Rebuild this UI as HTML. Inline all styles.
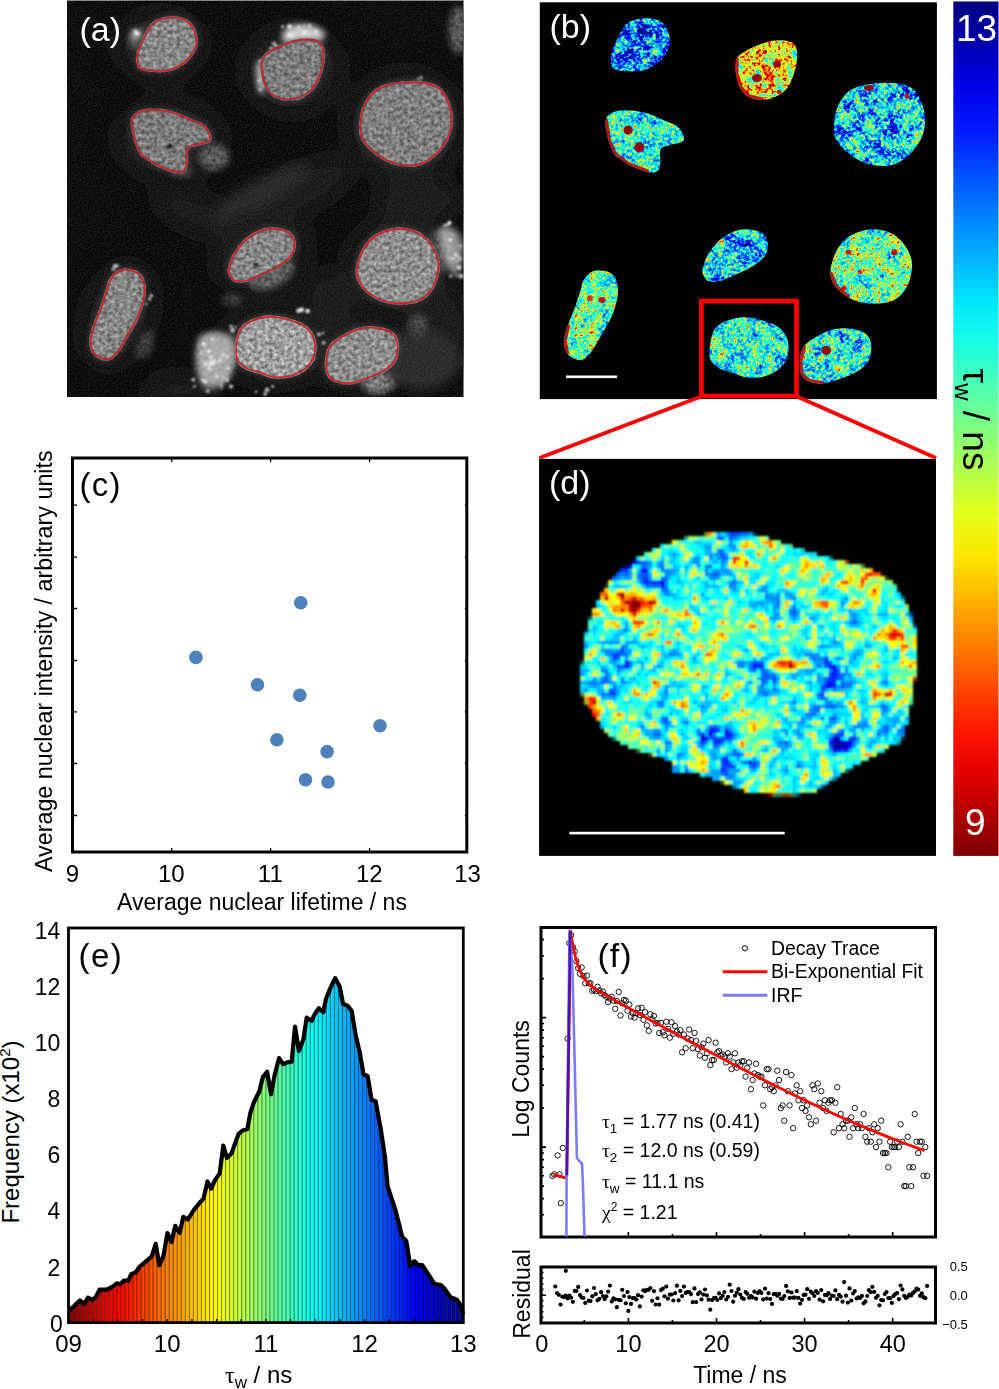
<!DOCTYPE html><html><head><meta charset="utf-8"><style>html,body{margin:0;padding:0;background:#fff;}svg{display:block;}text{font-family:"Liberation Sans", sans-serif;}</style></head><body>
<svg width="999" height="1389" viewBox="0 0 999 1389">
<defs>
<filter id="fb1" x="-5%" y="-5%" width="110%" height="110%" color-interpolation-filters="sRGB"><feTurbulence type="fractalNoise" baseFrequency="0.320" numOctaves="2" seed="7" result="nf"/><feColorMatrix in="nf" type="matrix" values="1 0 0 0 0 1 0 0 0 0 1 0 0 0 0 0 0 0 0 1" result="of0"/><feComponentTransfer in="of0" result="of"><feFuncR type="table" tableValues="0.25 0.3125 0.375 0.4375 0.5 0.6875 0.875 1 1"/><feFuncG type="table" tableValues="0.25 0.3125 0.375 0.4375 0.5 0.6875 0.875 1 1"/><feFuncB type="table" tableValues="0.25 0.3125 0.375 0.4375 0.5 0.6875 0.875 1 1"/></feComponentTransfer><feTurbulence type="fractalNoise" baseFrequency="0.080" numOctaves="2" seed="57" result="nc"/><feColorMatrix in="nc" type="matrix" values="1 0 0 0 0 1 0 0 0 0 1 0 0 0 0 0 0 0 0 1" result="oc"/><feComposite in="of" in2="oc" operator="arithmetic" k1="0" k2="0.5455" k3="0.4545" k4="0" result="mix"/><feColorMatrix in="mix" type="matrix" values="1.6500 0 0 0 -0.6050 1.6500 0 0 0 -0.6050 1.6500 0 0 0 -0.6050 0 0 0 0 1" result="v"/><feComponentTransfer in="v" result="c"><feFuncR type="table" tableValues="0.000 0.000 0.000 0.000 0.000 0.000 0.000 0.000 0.000 0.000 0.000 0.000 0.000 0.000 0.000 0.000 0.100 0.200 0.300 0.400 0.500 0.600 0.700 0.800 0.900 1.000 1.000 1.000 1.000 1.000 1.000 1.000 1.000 1.000 1.000 1.000 0.900 0.800 0.700 0.600 0.500"/><feFuncG type="table" tableValues="0.000 0.000 0.000 0.000 0.000 0.000 0.100 0.200 0.300 0.400 0.500 0.600 0.700 0.800 0.900 1.000 1.000 1.000 1.000 1.000 1.000 1.000 1.000 1.000 1.000 1.000 0.900 0.800 0.700 0.600 0.500 0.400 0.300 0.200 0.100 0.000 0.000 0.000 0.000 0.000 0.000"/><feFuncB type="table" tableValues="0.500 0.600 0.700 0.800 0.900 1.000 1.000 1.000 1.000 1.000 1.000 1.000 1.000 1.000 1.000 1.000 0.900 0.800 0.700 0.600 0.500 0.400 0.300 0.200 0.100 0.000 0.000 0.000 0.000 0.000 0.000 0.000 0.000 0.000 0.000 0.000 0.000 0.000 0.000 0.000 0.000"/></feComponentTransfer><feComposite in="c" in2="SourceGraphic" operator="in"/></filter>
<filter id="fb2" x="-5%" y="-5%" width="110%" height="110%" color-interpolation-filters="sRGB"><feTurbulence type="fractalNoise" baseFrequency="0.320" numOctaves="2" seed="14" result="nf"/><feColorMatrix in="nf" type="matrix" values="1 0 0 0 0 1 0 0 0 0 1 0 0 0 0 0 0 0 0 1" result="of0"/><feComponentTransfer in="of0" result="of"><feFuncR type="table" tableValues="0.25 0.3125 0.375 0.4375 0.5 0.6875 0.875 1 1"/><feFuncG type="table" tableValues="0.25 0.3125 0.375 0.4375 0.5 0.6875 0.875 1 1"/><feFuncB type="table" tableValues="0.25 0.3125 0.375 0.4375 0.5 0.6875 0.875 1 1"/></feComponentTransfer><feTurbulence type="fractalNoise" baseFrequency="0.080" numOctaves="2" seed="64" result="nc"/><feColorMatrix in="nc" type="matrix" values="1 0 0 0 0 1 0 0 0 0 1 0 0 0 0 0 0 0 0 1" result="oc"/><feComposite in="of" in2="oc" operator="arithmetic" k1="0" k2="0.4857" k3="0.5143" k4="0" result="mix"/><feColorMatrix in="mix" type="matrix" values="1.7500 0 0 0 -0.2550 1.7500 0 0 0 -0.2550 1.7500 0 0 0 -0.2550 0 0 0 0 1" result="v"/><feComponentTransfer in="v" result="c"><feFuncR type="table" tableValues="0.000 0.000 0.000 0.000 0.000 0.000 0.000 0.000 0.000 0.000 0.000 0.000 0.000 0.000 0.000 0.000 0.100 0.200 0.300 0.400 0.500 0.600 0.700 0.800 0.900 1.000 1.000 1.000 1.000 1.000 1.000 1.000 1.000 1.000 1.000 1.000 0.900 0.800 0.700 0.600 0.500"/><feFuncG type="table" tableValues="0.000 0.000 0.000 0.000 0.000 0.000 0.100 0.200 0.300 0.400 0.500 0.600 0.700 0.800 0.900 1.000 1.000 1.000 1.000 1.000 1.000 1.000 1.000 1.000 1.000 1.000 0.900 0.800 0.700 0.600 0.500 0.400 0.300 0.200 0.100 0.000 0.000 0.000 0.000 0.000 0.000"/><feFuncB type="table" tableValues="0.500 0.600 0.700 0.800 0.900 1.000 1.000 1.000 1.000 1.000 1.000 1.000 1.000 1.000 1.000 1.000 0.900 0.800 0.700 0.600 0.500 0.400 0.300 0.200 0.100 0.000 0.000 0.000 0.000 0.000 0.000 0.000 0.000 0.000 0.000 0.000 0.000 0.000 0.000 0.000 0.000"/></feComponentTransfer><feComposite in="c" in2="SourceGraphic" operator="in"/></filter>
<filter id="fb3" x="-5%" y="-5%" width="110%" height="110%" color-interpolation-filters="sRGB"><feTurbulence type="fractalNoise" baseFrequency="0.320" numOctaves="2" seed="21" result="nf"/><feColorMatrix in="nf" type="matrix" values="1 0 0 0 0 1 0 0 0 0 1 0 0 0 0 0 0 0 0 1" result="of0"/><feComponentTransfer in="of0" result="of"><feFuncR type="table" tableValues="0.25 0.3125 0.375 0.4375 0.5 0.6875 0.875 1 1"/><feFuncG type="table" tableValues="0.25 0.3125 0.375 0.4375 0.5 0.6875 0.875 1 1"/><feFuncB type="table" tableValues="0.25 0.3125 0.375 0.4375 0.5 0.6875 0.875 1 1"/></feComponentTransfer><feTurbulence type="fractalNoise" baseFrequency="0.080" numOctaves="2" seed="71" result="nc"/><feColorMatrix in="nc" type="matrix" values="1 0 0 0 0 1 0 0 0 0 1 0 0 0 0 0 0 0 0 1" result="oc"/><feComposite in="of" in2="oc" operator="arithmetic" k1="0" k2="0.5625" k3="0.4375" k4="0" result="mix"/><feColorMatrix in="mix" type="matrix" values="1.6000 0 0 0 -0.5000 1.6000 0 0 0 -0.5000 1.6000 0 0 0 -0.5000 0 0 0 0 1" result="v"/><feComponentTransfer in="v" result="c"><feFuncR type="table" tableValues="0.000 0.000 0.000 0.000 0.000 0.000 0.000 0.000 0.000 0.000 0.000 0.000 0.000 0.000 0.000 0.000 0.100 0.200 0.300 0.400 0.500 0.600 0.700 0.800 0.900 1.000 1.000 1.000 1.000 1.000 1.000 1.000 1.000 1.000 1.000 1.000 0.900 0.800 0.700 0.600 0.500"/><feFuncG type="table" tableValues="0.000 0.000 0.000 0.000 0.000 0.000 0.100 0.200 0.300 0.400 0.500 0.600 0.700 0.800 0.900 1.000 1.000 1.000 1.000 1.000 1.000 1.000 1.000 1.000 1.000 1.000 0.900 0.800 0.700 0.600 0.500 0.400 0.300 0.200 0.100 0.000 0.000 0.000 0.000 0.000 0.000"/><feFuncB type="table" tableValues="0.500 0.600 0.700 0.800 0.900 1.000 1.000 1.000 1.000 1.000 1.000 1.000 1.000 1.000 1.000 1.000 0.900 0.800 0.700 0.600 0.500 0.400 0.300 0.200 0.100 0.000 0.000 0.000 0.000 0.000 0.000 0.000 0.000 0.000 0.000 0.000 0.000 0.000 0.000 0.000 0.000"/></feComponentTransfer><feComposite in="c" in2="SourceGraphic" operator="in"/></filter>
<filter id="fb4" x="-5%" y="-5%" width="110%" height="110%" color-interpolation-filters="sRGB"><feTurbulence type="fractalNoise" baseFrequency="0.320" numOctaves="2" seed="28" result="nf"/><feColorMatrix in="nf" type="matrix" values="1 0 0 0 0 1 0 0 0 0 1 0 0 0 0 0 0 0 0 1" result="of0"/><feComponentTransfer in="of0" result="of"><feFuncR type="table" tableValues="0.25 0.3125 0.375 0.4375 0.5 0.6875 0.875 1 1"/><feFuncG type="table" tableValues="0.25 0.3125 0.375 0.4375 0.5 0.6875 0.875 1 1"/><feFuncB type="table" tableValues="0.25 0.3125 0.375 0.4375 0.5 0.6875 0.875 1 1"/></feComponentTransfer><feTurbulence type="fractalNoise" baseFrequency="0.080" numOctaves="2" seed="78" result="nc"/><feColorMatrix in="nc" type="matrix" values="1 0 0 0 0 1 0 0 0 0 1 0 0 0 0 0 0 0 0 1" result="oc"/><feComposite in="of" in2="oc" operator="arithmetic" k1="0" k2="0.6154" k3="0.3846" k4="0" result="mix"/><feColorMatrix in="mix" type="matrix" values="1.3000 0 0 0 -0.2800 1.3000 0 0 0 -0.2800 1.3000 0 0 0 -0.2800 0 0 0 0 1" result="v"/><feComponentTransfer in="v" result="c"><feFuncR type="table" tableValues="0.000 0.000 0.000 0.000 0.000 0.000 0.000 0.000 0.000 0.000 0.000 0.000 0.000 0.000 0.000 0.000 0.100 0.200 0.300 0.400 0.500 0.600 0.700 0.800 0.900 1.000 1.000 1.000 1.000 1.000 1.000 1.000 1.000 1.000 1.000 1.000 0.900 0.800 0.700 0.600 0.500"/><feFuncG type="table" tableValues="0.000 0.000 0.000 0.000 0.000 0.000 0.100 0.200 0.300 0.400 0.500 0.600 0.700 0.800 0.900 1.000 1.000 1.000 1.000 1.000 1.000 1.000 1.000 1.000 1.000 1.000 0.900 0.800 0.700 0.600 0.500 0.400 0.300 0.200 0.100 0.000 0.000 0.000 0.000 0.000 0.000"/><feFuncB type="table" tableValues="0.500 0.600 0.700 0.800 0.900 1.000 1.000 1.000 1.000 1.000 1.000 1.000 1.000 1.000 1.000 1.000 0.900 0.800 0.700 0.600 0.500 0.400 0.300 0.200 0.100 0.000 0.000 0.000 0.000 0.000 0.000 0.000 0.000 0.000 0.000 0.000 0.000 0.000 0.000 0.000 0.000"/></feComponentTransfer><feComposite in="c" in2="SourceGraphic" operator="in"/></filter>
<filter id="fb5" x="-5%" y="-5%" width="110%" height="110%" color-interpolation-filters="sRGB"><feTurbulence type="fractalNoise" baseFrequency="0.320" numOctaves="2" seed="35" result="nf"/><feColorMatrix in="nf" type="matrix" values="1 0 0 0 0 1 0 0 0 0 1 0 0 0 0 0 0 0 0 1" result="of0"/><feComponentTransfer in="of0" result="of"><feFuncR type="table" tableValues="0.25 0.3125 0.375 0.4375 0.5 0.6875 0.875 1 1"/><feFuncG type="table" tableValues="0.25 0.3125 0.375 0.4375 0.5 0.6875 0.875 1 1"/><feFuncB type="table" tableValues="0.25 0.3125 0.375 0.4375 0.5 0.6875 0.875 1 1"/></feComponentTransfer><feTurbulence type="fractalNoise" baseFrequency="0.080" numOctaves="2" seed="85" result="nc"/><feColorMatrix in="nc" type="matrix" values="1 0 0 0 0 1 0 0 0 0 1 0 0 0 0 0 0 0 0 1" result="oc"/><feComposite in="of" in2="oc" operator="arithmetic" k1="0" k2="0.5625" k3="0.4375" k4="0" result="mix"/><feColorMatrix in="mix" type="matrix" values="1.6000 0 0 0 -0.5100 1.6000 0 0 0 -0.5100 1.6000 0 0 0 -0.5100 0 0 0 0 1" result="v"/><feComponentTransfer in="v" result="c"><feFuncR type="table" tableValues="0.000 0.000 0.000 0.000 0.000 0.000 0.000 0.000 0.000 0.000 0.000 0.000 0.000 0.000 0.000 0.000 0.100 0.200 0.300 0.400 0.500 0.600 0.700 0.800 0.900 1.000 1.000 1.000 1.000 1.000 1.000 1.000 1.000 1.000 1.000 1.000 0.900 0.800 0.700 0.600 0.500"/><feFuncG type="table" tableValues="0.000 0.000 0.000 0.000 0.000 0.000 0.100 0.200 0.300 0.400 0.500 0.600 0.700 0.800 0.900 1.000 1.000 1.000 1.000 1.000 1.000 1.000 1.000 1.000 1.000 1.000 0.900 0.800 0.700 0.600 0.500 0.400 0.300 0.200 0.100 0.000 0.000 0.000 0.000 0.000 0.000"/><feFuncB type="table" tableValues="0.500 0.600 0.700 0.800 0.900 1.000 1.000 1.000 1.000 1.000 1.000 1.000 1.000 1.000 1.000 1.000 0.900 0.800 0.700 0.600 0.500 0.400 0.300 0.200 0.100 0.000 0.000 0.000 0.000 0.000 0.000 0.000 0.000 0.000 0.000 0.000 0.000 0.000 0.000 0.000 0.000"/></feComponentTransfer><feComposite in="c" in2="SourceGraphic" operator="in"/></filter>
<filter id="fb6" x="-5%" y="-5%" width="110%" height="110%" color-interpolation-filters="sRGB"><feTurbulence type="fractalNoise" baseFrequency="0.320" numOctaves="2" seed="42" result="nf"/><feColorMatrix in="nf" type="matrix" values="1 0 0 0 0 1 0 0 0 0 1 0 0 0 0 0 0 0 0 1" result="of0"/><feComponentTransfer in="of0" result="of"><feFuncR type="table" tableValues="0.25 0.3125 0.375 0.4375 0.5 0.6875 0.875 1 1"/><feFuncG type="table" tableValues="0.25 0.3125 0.375 0.4375 0.5 0.6875 0.875 1 1"/><feFuncB type="table" tableValues="0.25 0.3125 0.375 0.4375 0.5 0.6875 0.875 1 1"/></feComponentTransfer><feTurbulence type="fractalNoise" baseFrequency="0.080" numOctaves="2" seed="92" result="nc"/><feColorMatrix in="nc" type="matrix" values="1 0 0 0 0 1 0 0 0 0 1 0 0 0 0 0 0 0 0 1" result="oc"/><feComposite in="of" in2="oc" operator="arithmetic" k1="0" k2="0.5862" k3="0.4138" k4="0" result="mix"/><feColorMatrix in="mix" type="matrix" values="1.4500 0 0 0 -0.2850 1.4500 0 0 0 -0.2850 1.4500 0 0 0 -0.2850 0 0 0 0 1" result="v"/><feComponentTransfer in="v" result="c"><feFuncR type="table" tableValues="0.000 0.000 0.000 0.000 0.000 0.000 0.000 0.000 0.000 0.000 0.000 0.000 0.000 0.000 0.000 0.000 0.100 0.200 0.300 0.400 0.500 0.600 0.700 0.800 0.900 1.000 1.000 1.000 1.000 1.000 1.000 1.000 1.000 1.000 1.000 1.000 0.900 0.800 0.700 0.600 0.500"/><feFuncG type="table" tableValues="0.000 0.000 0.000 0.000 0.000 0.000 0.100 0.200 0.300 0.400 0.500 0.600 0.700 0.800 0.900 1.000 1.000 1.000 1.000 1.000 1.000 1.000 1.000 1.000 1.000 1.000 0.900 0.800 0.700 0.600 0.500 0.400 0.300 0.200 0.100 0.000 0.000 0.000 0.000 0.000 0.000"/><feFuncB type="table" tableValues="0.500 0.600 0.700 0.800 0.900 1.000 1.000 1.000 1.000 1.000 1.000 1.000 1.000 1.000 1.000 1.000 0.900 0.800 0.700 0.600 0.500 0.400 0.300 0.200 0.100 0.000 0.000 0.000 0.000 0.000 0.000 0.000 0.000 0.000 0.000 0.000 0.000 0.000 0.000 0.000 0.000"/></feComponentTransfer><feComposite in="c" in2="SourceGraphic" operator="in"/></filter>
<filter id="fb7" x="-5%" y="-5%" width="110%" height="110%" color-interpolation-filters="sRGB"><feTurbulence type="fractalNoise" baseFrequency="0.320" numOctaves="2" seed="49" result="nf"/><feColorMatrix in="nf" type="matrix" values="1 0 0 0 0 1 0 0 0 0 1 0 0 0 0 0 0 0 0 1" result="of0"/><feComponentTransfer in="of0" result="of"><feFuncR type="table" tableValues="0.25 0.3125 0.375 0.4375 0.5 0.6875 0.875 1 1"/><feFuncG type="table" tableValues="0.25 0.3125 0.375 0.4375 0.5 0.6875 0.875 1 1"/><feFuncB type="table" tableValues="0.25 0.3125 0.375 0.4375 0.5 0.6875 0.875 1 1"/></feComponentTransfer><feTurbulence type="fractalNoise" baseFrequency="0.080" numOctaves="2" seed="99" result="nc"/><feColorMatrix in="nc" type="matrix" values="1 0 0 0 0 1 0 0 0 0 1 0 0 0 0 0 0 0 0 1" result="oc"/><feComposite in="of" in2="oc" operator="arithmetic" k1="0" k2="0.5862" k3="0.4138" k4="0" result="mix"/><feColorMatrix in="mix" type="matrix" values="1.4500 0 0 0 -0.3050 1.4500 0 0 0 -0.3050 1.4500 0 0 0 -0.3050 0 0 0 0 1" result="v"/><feComponentTransfer in="v" result="c"><feFuncR type="table" tableValues="0.000 0.000 0.000 0.000 0.000 0.000 0.000 0.000 0.000 0.000 0.000 0.000 0.000 0.000 0.000 0.000 0.100 0.200 0.300 0.400 0.500 0.600 0.700 0.800 0.900 1.000 1.000 1.000 1.000 1.000 1.000 1.000 1.000 1.000 1.000 1.000 0.900 0.800 0.700 0.600 0.500"/><feFuncG type="table" tableValues="0.000 0.000 0.000 0.000 0.000 0.000 0.100 0.200 0.300 0.400 0.500 0.600 0.700 0.800 0.900 1.000 1.000 1.000 1.000 1.000 1.000 1.000 1.000 1.000 1.000 1.000 0.900 0.800 0.700 0.600 0.500 0.400 0.300 0.200 0.100 0.000 0.000 0.000 0.000 0.000 0.000"/><feFuncB type="table" tableValues="0.500 0.600 0.700 0.800 0.900 1.000 1.000 1.000 1.000 1.000 1.000 1.000 1.000 1.000 1.000 1.000 0.900 0.800 0.700 0.600 0.500 0.400 0.300 0.200 0.100 0.000 0.000 0.000 0.000 0.000 0.000 0.000 0.000 0.000 0.000 0.000 0.000 0.000 0.000 0.000 0.000"/></feComponentTransfer><feComposite in="c" in2="SourceGraphic" operator="in"/></filter>
<filter id="fb8" x="-5%" y="-5%" width="110%" height="110%" color-interpolation-filters="sRGB"><feTurbulence type="fractalNoise" baseFrequency="0.320" numOctaves="2" seed="56" result="nf"/><feColorMatrix in="nf" type="matrix" values="1 0 0 0 0 1 0 0 0 0 1 0 0 0 0 0 0 0 0 1" result="of0"/><feComponentTransfer in="of0" result="of"><feFuncR type="table" tableValues="0.25 0.3125 0.375 0.4375 0.5 0.6875 0.875 1 1"/><feFuncG type="table" tableValues="0.25 0.3125 0.375 0.4375 0.5 0.6875 0.875 1 1"/><feFuncB type="table" tableValues="0.25 0.3125 0.375 0.4375 0.5 0.6875 0.875 1 1"/></feComponentTransfer><feTurbulence type="fractalNoise" baseFrequency="0.080" numOctaves="2" seed="106" result="nc"/><feColorMatrix in="nc" type="matrix" values="1 0 0 0 0 1 0 0 0 0 1 0 0 0 0 0 0 0 0 1" result="oc"/><feComposite in="of" in2="oc" operator="arithmetic" k1="0" k2="0.6071" k3="0.3929" k4="0" result="mix"/><feColorMatrix in="mix" type="matrix" values="1.4000 0 0 0 -0.3300 1.4000 0 0 0 -0.3300 1.4000 0 0 0 -0.3300 0 0 0 0 1" result="v"/><feComponentTransfer in="v" result="c"><feFuncR type="table" tableValues="0.000 0.000 0.000 0.000 0.000 0.000 0.000 0.000 0.000 0.000 0.000 0.000 0.000 0.000 0.000 0.000 0.100 0.200 0.300 0.400 0.500 0.600 0.700 0.800 0.900 1.000 1.000 1.000 1.000 1.000 1.000 1.000 1.000 1.000 1.000 1.000 0.900 0.800 0.700 0.600 0.500"/><feFuncG type="table" tableValues="0.000 0.000 0.000 0.000 0.000 0.000 0.100 0.200 0.300 0.400 0.500 0.600 0.700 0.800 0.900 1.000 1.000 1.000 1.000 1.000 1.000 1.000 1.000 1.000 1.000 1.000 0.900 0.800 0.700 0.600 0.500 0.400 0.300 0.200 0.100 0.000 0.000 0.000 0.000 0.000 0.000"/><feFuncB type="table" tableValues="0.500 0.600 0.700 0.800 0.900 1.000 1.000 1.000 1.000 1.000 1.000 1.000 1.000 1.000 1.000 1.000 0.900 0.800 0.700 0.600 0.500 0.400 0.300 0.200 0.100 0.000 0.000 0.000 0.000 0.000 0.000 0.000 0.000 0.000 0.000 0.000 0.000 0.000 0.000 0.000 0.000"/></feComponentTransfer><feComposite in="c" in2="SourceGraphic" operator="in"/></filter>
<filter id="fb9" x="-5%" y="-5%" width="110%" height="110%" color-interpolation-filters="sRGB"><feTurbulence type="fractalNoise" baseFrequency="0.320" numOctaves="2" seed="63" result="nf"/><feColorMatrix in="nf" type="matrix" values="1 0 0 0 0 1 0 0 0 0 1 0 0 0 0 0 0 0 0 1" result="of0"/><feComponentTransfer in="of0" result="of"><feFuncR type="table" tableValues="0.25 0.3125 0.375 0.4375 0.5 0.6875 0.875 1 1"/><feFuncG type="table" tableValues="0.25 0.3125 0.375 0.4375 0.5 0.6875 0.875 1 1"/><feFuncB type="table" tableValues="0.25 0.3125 0.375 0.4375 0.5 0.6875 0.875 1 1"/></feComponentTransfer><feTurbulence type="fractalNoise" baseFrequency="0.080" numOctaves="2" seed="113" result="nc"/><feColorMatrix in="nc" type="matrix" values="1 0 0 0 0 1 0 0 0 0 1 0 0 0 0 0 0 0 0 1" result="oc"/><feComposite in="of" in2="oc" operator="arithmetic" k1="0" k2="0.5862" k3="0.4138" k4="0" result="mix"/><feColorMatrix in="mix" type="matrix" values="1.4500 0 0 0 -0.3650 1.4500 0 0 0 -0.3650 1.4500 0 0 0 -0.3650 0 0 0 0 1" result="v"/><feComponentTransfer in="v" result="c"><feFuncR type="table" tableValues="0.000 0.000 0.000 0.000 0.000 0.000 0.000 0.000 0.000 0.000 0.000 0.000 0.000 0.000 0.000 0.000 0.100 0.200 0.300 0.400 0.500 0.600 0.700 0.800 0.900 1.000 1.000 1.000 1.000 1.000 1.000 1.000 1.000 1.000 1.000 1.000 0.900 0.800 0.700 0.600 0.500"/><feFuncG type="table" tableValues="0.000 0.000 0.000 0.000 0.000 0.000 0.100 0.200 0.300 0.400 0.500 0.600 0.700 0.800 0.900 1.000 1.000 1.000 1.000 1.000 1.000 1.000 1.000 1.000 1.000 1.000 0.900 0.800 0.700 0.600 0.500 0.400 0.300 0.200 0.100 0.000 0.000 0.000 0.000 0.000 0.000"/><feFuncB type="table" tableValues="0.500 0.600 0.700 0.800 0.900 1.000 1.000 1.000 1.000 1.000 1.000 1.000 1.000 1.000 1.000 1.000 0.900 0.800 0.700 0.600 0.500 0.400 0.300 0.200 0.100 0.000 0.000 0.000 0.000 0.000 0.000 0.000 0.000 0.000 0.000 0.000 0.000 0.000 0.000 0.000 0.000"/></feComponentTransfer><feComposite in="c" in2="SourceGraphic" operator="in"/></filter>
<filter id="fd" filterUnits="userSpaceOnUse" x="560" y="520" width="380" height="290" color-interpolation-filters="sRGB"><feTurbulence type="fractalNoise" baseFrequency="0.100" numOctaves="2" seed="77" result="nf"/><feColorMatrix in="nf" type="matrix" values="1 0 0 0 0 1 0 0 0 0 1 0 0 0 0 0 0 0 0 1" result="of0"/><feComponentTransfer in="of0" result="of"><feFuncR type="table" tableValues="0.25 0.3125 0.375 0.4375 0.5 0.6875 0.875 1 1"/><feFuncG type="table" tableValues="0.25 0.3125 0.375 0.4375 0.5 0.6875 0.875 1 1"/><feFuncB type="table" tableValues="0.25 0.3125 0.375 0.4375 0.5 0.6875 0.875 1 1"/></feComponentTransfer><feTurbulence type="fractalNoise" baseFrequency="0.020" numOctaves="2" seed="127" result="nc"/><feColorMatrix in="nc" type="matrix" values="1 0 0 0 0 1 0 0 0 0 1 0 0 0 0 0 0 0 0 1" result="oc"/><feComposite in="of" in2="oc" operator="arithmetic" k1="0" k2="0.6207" k3="0.3793" k4="0" result="mix"/><feComposite in="mix" in2="SourceGraphic" operator="arithmetic" k1="0" k2="0.4915" k3="0.5085" k4="0" result="mix"/><feColorMatrix in="mix" type="matrix" values="2.9500 0 0 0 -1.0900 2.9500 0 0 0 -1.0900 2.9500 0 0 0 -1.0900 0 0 0 0 1" result="v"/><feComponentTransfer in="v" result="c"><feFuncR type="table" tableValues="0.000 0.000 0.000 0.000 0.000 0.000 0.000 0.000 0.000 0.000 0.000 0.000 0.000 0.000 0.000 0.000 0.100 0.200 0.300 0.400 0.500 0.600 0.700 0.800 0.900 1.000 1.000 1.000 1.000 1.000 1.000 1.000 1.000 1.000 1.000 1.000 0.900 0.800 0.700 0.600 0.500"/><feFuncG type="table" tableValues="0.000 0.000 0.000 0.000 0.000 0.000 0.100 0.200 0.300 0.400 0.500 0.600 0.700 0.800 0.900 1.000 1.000 1.000 1.000 1.000 1.000 1.000 1.000 1.000 1.000 1.000 0.900 0.800 0.700 0.600 0.500 0.400 0.300 0.200 0.100 0.000 0.000 0.000 0.000 0.000 0.000"/><feFuncB type="table" tableValues="0.500 0.600 0.700 0.800 0.900 1.000 1.000 1.000 1.000 1.000 1.000 1.000 1.000 1.000 1.000 1.000 0.900 0.800 0.700 0.600 0.500 0.400 0.300 0.200 0.100 0.000 0.000 0.000 0.000 0.000 0.000 0.000 0.000 0.000 0.000 0.000 0.000 0.000 0.000 0.000 0.000"/></feComponentTransfer><feFlood x="562" y="522" width="1" height="1" flood-color="#fff"/><feComposite x="560" y="520" width="4" height="4"/><feTile result="grid"/><feComposite in="c" in2="SourceGraphic" operator="in" result="cs"/><feComposite in="cs" in2="grid" operator="in"/><feMorphology operator="dilate" radius="2"/><feGaussianBlur stdDeviation="1.1"/></filter>
<filter id="fa" x="-5%" y="-5%" width="110%" height="110%" color-interpolation-filters="sRGB"><feTurbulence type="fractalNoise" baseFrequency="0.26" numOctaves="4" seed="11" result="n"/><feColorMatrix in="n" type="matrix" values="0.75 0 0 0 0.33  0.75 0 0 0 0.33  0.75 0 0 0 0.33  0 0 0 0 1" result="g"/><feComposite in="g" in2="SourceGraphic" operator="arithmetic" k1="1" k2="0" k3="0" k4="0" result="t"/><feGaussianBlur in="t" stdDeviation="0.6"/></filter>
<filter id="fas" x="-30%" y="-30%" width="160%" height="160%" color-interpolation-filters="sRGB"><feTurbulence type="fractalNoise" baseFrequency="0.25" numOctaves="3" seed="17" result="n"/><feColorMatrix in="n" type="matrix" values="0.9 0 0 0 0.3  0.9 0 0 0 0.3  0.9 0 0 0 0.3  0 0 0 0 1" result="g"/><feGaussianBlur in="SourceGraphic" stdDeviation="3" result="sb"/><feComposite in="g" in2="sb" operator="arithmetic" k1="1" k2="0" k3="0" k4="0" result="t"/><feGaussianBlur in="t" stdDeviation="0.5"/></filter>
<filter id="blur6" x="-50%" y="-50%" width="200%" height="200%"><feGaussianBlur stdDeviation="6"/></filter>
<filter id="blur3" x="-50%" y="-50%" width="200%" height="200%"><feGaussianBlur stdDeviation="3"/></filter>
<filter id="blur12" x="-50%" y="-50%" width="200%" height="200%"><feGaussianBlur stdDeviation="12"/></filter>
<filter id="grain" x="0" y="0" width="1" height="1" color-interpolation-filters="sRGB"><feTurbulence type="fractalNoise" baseFrequency="0.7" numOctaves="2" seed="3"/><feColorMatrix type="matrix" values="0 0 0 0 1  0 0 0 0 1  0 0 0 0 1  0.22 0 0 0 -0.07"/></filter>
<filter id="blur05" x="-50%" y="-50%" width="200%" height="200%"><feGaussianBlur stdDeviation="0.6"/></filter>
<filter id="blur1" x="-50%" y="-50%" width="200%" height="200%"><feGaussianBlur stdDeviation="1.2"/></filter>
<linearGradient id="cbar" x1="0" y1="0" x2="0" y2="1">
<stop offset="0.000" stop-color="#000080"/>
<stop offset="0.050" stop-color="#0000b2"/>
<stop offset="0.100" stop-color="#0000e6"/>
<stop offset="0.150" stop-color="#0019ff"/>
<stop offset="0.200" stop-color="#004dff"/>
<stop offset="0.250" stop-color="#0080ff"/>
<stop offset="0.300" stop-color="#00b2ff"/>
<stop offset="0.350" stop-color="#00e5ff"/>
<stop offset="0.400" stop-color="#1affe5"/>
<stop offset="0.450" stop-color="#4dffb2"/>
<stop offset="0.500" stop-color="#80ff80"/>
<stop offset="0.550" stop-color="#b3ff4c"/>
<stop offset="0.600" stop-color="#e5ff1a"/>
<stop offset="0.650" stop-color="#ffe500"/>
<stop offset="0.700" stop-color="#ffb300"/>
<stop offset="0.750" stop-color="#ff8000"/>
<stop offset="0.800" stop-color="#ff4c00"/>
<stop offset="0.850" stop-color="#ff1a00"/>
<stop offset="0.900" stop-color="#e50000"/>
<stop offset="0.950" stop-color="#b30000"/>
<stop offset="1.000" stop-color="#800000"/>
</linearGradient>
<clipPath id="clipA"><rect x="67" y="0.5" width="396.5" height="396.5"/></clipPath>
<clipPath id="clipF"><rect x="541" y="927.5" width="394" height="309"/></clipPath>
</defs>
<rect x="67" y="0.5" width="396.5" height="396.5" fill="#060606"/>
<rect x="67" y="0" width="396.5" height="1" fill="#888"/>
<g clip-path="url(#clipA)">
<g filter="url(#blur12)" fill="#181818">
<ellipse cx="160" cy="45" rx="45" ry="35" transform="rotate(0 160 45)"/>
<ellipse cx="292" cy="70" rx="50" ry="45" transform="rotate(0 292 70)"/>
<ellipse cx="405" cy="125" rx="60" ry="55" transform="rotate(0 405 125)"/>
<ellipse cx="170" cy="140" rx="55" ry="40" transform="rotate(0 170 140)"/>
<ellipse cx="262" cy="255" rx="50" ry="35" transform="rotate(-20 262 255)"/>
<ellipse cx="400" cy="265" rx="55" ry="50" transform="rotate(0 400 265)"/>
<ellipse cx="118" cy="315" rx="35" ry="55" transform="rotate(20 118 315)"/>
<ellipse cx="275" cy="345" rx="60" ry="40" transform="rotate(0 275 345)"/>
<ellipse cx="362" cy="355" rx="50" ry="35" transform="rotate(0 362 355)"/>
<ellipse cx="300" cy="190" rx="60" ry="22" transform="rotate(-25 300 190)"/>
<ellipse cx="200" cy="215" rx="50" ry="18" transform="rotate(20 200 215)"/>
<ellipse cx="420" cy="200" rx="45" ry="20" transform="rotate(0 420 200)"/>
<ellipse cx="330" cy="300" rx="25" ry="30" transform="rotate(0 330 300)"/>
<ellipse cx="180" cy="390" rx="40" ry="15" transform="rotate(0 180 390)"/>
<ellipse cx="440" cy="330" rx="30" ry="40" transform="rotate(0 440 330)"/>
</g>
<ellipse cx="262" cy="192" rx="55" ry="13" transform="rotate(-28 262 192)" fill="#242424" filter="url(#blur6)"/>
<ellipse cx="420" cy="360" rx="40" ry="30" fill="#262626" filter="url(#blur6)"/>
<g filter="url(#blur3)" fill="#303030" stroke="#303030" stroke-width="5">
<path d="M138.1,52.1 C139.7,47.4 144.3,37.0 147.1,32.0 C149.9,27.0 151.1,24.4 155.1,22.0 C159.1,19.6 166.1,17.9 171.1,17.6 C176.1,17.3 181.4,18.3 185.1,20.0 C188.8,21.7 191.2,24.3 193.1,28.0 C195.0,31.7 196.7,38.0 196.7,42.0 C196.7,46.0 195.0,48.8 193.1,52.1 C191.2,55.5 189.1,59.1 185.1,62.1 C181.1,65.1 174.8,68.7 169.1,70.1 C163.4,71.5 155.9,70.8 151.1,70.5 C146.3,70.2 142.4,69.8 140.1,68.1 C137.8,66.4 137.8,62.8 137.5,60.1 C137.2,57.4 136.5,56.8 138.1,52.1Z"/>
<path d="M262.8,58.6 C264.4,54.9 267.5,53.1 272.2,50.4 C276.9,47.7 285.0,44.0 290.9,42.2 C296.8,40.4 302.4,39.6 307.3,39.8 C312.2,40.0 317.5,40.9 320.2,43.3 C322.9,45.6 323.5,49.4 323.7,53.9 C323.9,58.4 323.0,64.8 321.4,70.3 C319.8,75.8 317.4,82.4 314.3,86.7 C311.2,91.0 306.9,93.8 302.6,96.0 C298.3,98.2 293.3,99.6 288.6,99.6 C283.9,99.6 278.2,98.2 274.5,96.0 C270.8,93.8 268.3,90.6 266.3,86.7 C264.3,82.8 262.9,77.3 262.3,72.6 C261.7,67.9 261.2,62.3 262.8,58.6Z"/>
<path d="M360.5,132.1 C360.2,128.4 360.4,121.8 361.1,117.2 C361.8,112.7 362.9,108.7 364.8,104.8 C366.7,100.9 369.6,96.5 372.3,93.6 C375.0,90.7 377.5,89.0 381.0,87.4 C384.5,85.8 388.8,84.7 393.4,83.9 C397.9,83.1 403.1,82.6 408.3,82.4 C413.5,82.2 419.8,82.4 424.4,83.0 C428.9,83.6 432.5,84.5 435.6,86.1 C438.7,87.6 440.9,89.6 443.0,92.3 C445.1,95.0 446.6,99.0 448.0,102.3 C449.4,105.6 450.5,108.9 451.1,112.2 C451.7,115.5 451.9,118.8 451.7,122.1 C451.5,125.4 450.9,128.8 449.9,132.1 C448.9,135.4 447.5,138.7 445.5,142.0 C443.5,145.3 440.8,149.0 438.1,151.9 C435.4,154.8 432.5,157.3 429.4,159.4 C426.3,161.5 422.7,163.3 419.4,164.3 C416.1,165.3 413.0,165.6 409.5,165.6 C406.0,165.6 402.0,165.1 398.3,164.3 C394.6,163.5 390.7,162.2 387.2,160.6 C383.7,158.9 380.3,156.7 377.2,154.4 C374.1,152.1 371.0,149.5 368.6,147.0 C366.2,144.5 364.4,142.0 363.0,139.5 C361.6,137.0 360.8,135.8 360.5,132.1Z"/>
<path d="M132.1,120.1 C132.8,115.4 135.9,113.8 139.1,112.1 C142.3,110.4 145.8,109.7 151.1,109.7 C156.4,109.7 164.4,110.4 171.1,112.1 C177.8,113.8 185.4,117.6 191.1,120.1 C196.8,122.6 201.9,123.8 205.1,127.1 C208.3,130.4 211.8,137.1 210.1,140.1 C208.4,143.1 198.9,143.6 195.1,145.1 C191.3,146.6 188.5,145.9 187.1,149.1 C185.7,152.3 187.4,160.5 186.7,164.2 C186.0,167.9 185.4,170.0 183.1,171.2 C180.8,172.4 177.8,172.4 173.1,171.2 C168.4,170.0 159.4,166.4 155.1,164.2 C150.8,162.0 149.4,159.9 147.1,158.2 C144.8,156.5 143.1,157.2 141.1,154.2 C139.1,151.2 136.6,145.8 135.1,140.1 C133.6,134.4 131.4,124.8 132.1,120.1Z"/>
<path d="M229.8,266.0 C230.7,262.7 231.8,258.2 234.7,253.7 C237.5,249.2 242.0,243.1 246.9,239.1 C251.8,235.1 258.7,231.4 264.0,229.8 C269.3,228.2 274.1,228.6 278.6,229.3 C283.1,230.0 288.2,231.5 290.8,234.2 C293.4,236.8 294.5,241.5 294.5,245.2 C294.5,248.9 293.4,252.7 290.8,256.2 C288.2,259.7 283.5,262.9 278.6,266.0 C273.7,269.1 266.8,272.1 261.5,274.5 C256.2,276.9 251.4,279.6 246.9,280.6 C242.4,281.6 237.6,281.8 234.7,280.6 C231.8,279.4 230.1,275.7 229.3,273.3 C228.5,270.9 228.9,269.3 229.8,266.0Z"/>
<path d="M356.8,273.3 C356.6,268.4 358.4,261.5 360.4,256.2 C362.4,250.9 365.5,245.4 369.0,241.5 C372.5,237.6 376.3,235.1 381.2,233.0 C386.1,230.9 392.6,229.0 398.3,228.8 C404.0,228.6 410.5,229.9 415.4,231.8 C420.3,233.7 424.1,236.7 427.6,240.3 C431.1,244.0 434.4,249.4 436.2,253.7 C438.0,258.0 438.8,261.1 438.6,266.0 C438.4,270.9 437.1,277.9 434.9,283.0 C432.7,288.1 429.3,293.2 425.2,296.5 C421.1,299.8 416.2,301.6 410.5,302.6 C404.8,303.6 397.1,303.6 391.0,302.6 C384.9,301.6 378.8,299.4 373.9,296.5 C369.0,293.6 364.5,289.4 361.7,285.5 C358.9,281.6 357.0,278.2 356.8,273.3Z"/>
<path d="M110.0,280.1 C111.7,277.1 114.6,273.8 117.1,272.1 C119.6,270.4 121.9,269.7 125.1,269.7 C128.3,269.7 133.1,270.4 136.1,272.1 C139.1,273.8 141.8,276.1 143.1,280.1 C144.4,284.1 144.9,290.1 144.1,296.1 C143.3,302.1 140.9,309.4 138.1,316.1 C135.3,322.8 130.6,330.1 127.1,336.1 C123.6,342.1 120.1,348.4 117.1,352.2 C114.1,356.0 111.7,358.2 109.0,359.2 C106.3,360.2 103.7,359.4 101.0,358.2 C98.3,357.0 94.7,355.2 93.0,352.2 C91.3,349.2 90.4,344.5 90.6,340.1 C90.8,335.8 92.3,331.4 94.0,326.1 C95.7,320.8 98.8,314.1 101.0,308.1 C103.2,302.1 105.5,294.8 107.0,290.1 C108.5,285.4 108.3,283.1 110.0,280.1Z"/>
<path d="M235.9,351.4 C236.1,346.5 237.3,336.8 239.5,331.9 C241.7,327.0 244.4,324.6 249.3,322.1 C254.2,319.6 262.4,317.2 268.9,316.8 C275.4,316.4 282.3,318.0 288.4,319.7 C294.5,321.4 301.2,323.8 305.5,327.0 C309.8,330.2 312.6,334.3 314.0,339.2 C315.4,344.1 315.4,351.4 314.0,356.3 C312.6,361.2 309.4,365.2 305.5,368.5 C301.6,371.8 296.1,374.5 290.8,375.9 C285.5,377.3 279.0,377.7 273.7,377.1 C268.4,376.5 263.6,373.6 259.1,372.2 C254.6,370.8 250.4,370.3 246.9,368.5 C243.4,366.7 240.1,364.1 238.3,361.2 C236.5,358.3 235.7,356.3 235.9,351.4Z"/>
<path d="M326.3,361.2 C326.7,356.7 327.3,350.7 329.9,346.6 C332.5,342.5 337.2,339.7 342.1,336.8 C347.0,333.9 353.1,330.4 359.2,329.0 C365.3,327.6 373.1,327.3 378.8,328.2 C384.5,329.1 390.2,331.2 393.4,334.3 C396.6,337.4 397.6,342.1 397.8,346.6 C398.0,351.1 397.0,357.1 394.6,361.2 C392.2,365.3 388.4,368.1 383.7,371.0 C379.0,373.9 372.3,376.3 366.6,378.3 C360.9,380.3 354.8,382.8 349.5,383.2 C344.2,383.6 338.5,382.3 334.8,380.7 C331.1,379.1 328.9,376.6 327.5,373.4 C326.1,370.1 325.9,365.7 326.3,361.2Z"/>
</g>
<ellipse cx="272" cy="275" rx="24" ry="12" transform="rotate(-25 272 275)" fill="rgb(120,120,120)" filter="url(#fas)"/>
<ellipse cx="214" cy="157" rx="15" ry="13" transform="rotate(0 214 157)" fill="rgb(110,110,110)" filter="url(#fas)"/>
<ellipse cx="458" cy="30" rx="9" ry="24" transform="rotate(0 458 30)" fill="rgb(110,110,110)" filter="url(#fas)"/>
<ellipse cx="378" cy="383" rx="16" ry="11" transform="rotate(0 378 383)" fill="rgb(150,150,150)" filter="url(#fas)"/>
<ellipse cx="182" cy="172" rx="10" ry="5" transform="rotate(0 182 172)" fill="rgb(90,90,90)" filter="url(#fas)"/>
<ellipse cx="215" cy="358" rx="20" ry="26" transform="rotate(0 215 358)" fill="rgb(120,120,120)" filter="url(#fas)"/>
<ellipse cx="440" cy="250" rx="12" ry="22" transform="rotate(0 440 250)" fill="rgb(90,90,90)" filter="url(#fas)"/>
<ellipse cx="255" cy="330" rx="10" ry="8" transform="rotate(0 255 330)" fill="rgb(90,90,90)" filter="url(#fas)"/>
<ellipse cx="232" cy="300" rx="10" ry="6" transform="rotate(0 232 300)" fill="rgb(70,70,70)" filter="url(#fas)"/>
<ellipse cx="418" cy="325" rx="10" ry="12" transform="rotate(0 418 325)" fill="rgb(80,80,80)" filter="url(#fas)"/>
<ellipse cx="145" cy="345" rx="8" ry="15" transform="rotate(20 145 345)" fill="rgb(70,70,70)" filter="url(#fas)"/>
<ellipse cx="300" cy="50" rx="22" ry="12" transform="rotate(0 300 50)" fill="rgb(90,90,90)" filter="url(#fas)"/>
<ellipse cx="150" cy="35" rx="12" ry="10" transform="rotate(0 150 35)" fill="rgb(70,70,70)" filter="url(#fas)"/>
<g filter="url(#blur3)" fill="#e6e6e6">
<ellipse cx="136" cy="34" rx="4.5" ry="4" opacity="1"/>
<ellipse cx="134" cy="40" rx="5" ry="9" opacity="0.35"/>
<path d="M282,36 C284,28 292,24 300,25 C308,24 318,26 325,33 C326,38 322,41 316,40 C306,39 296,40 288,42 C285,42 282,40 282,36Z" opacity="0.9"/>
<path d="M258,62 C260,60 263,62 264,68 C265,78 265,88 262,95 C259,94 257,86 257,78 C256,70 256,64 258,62Z" opacity="0.8"/>
<path d="M198,338 C205,330 222,332 232,336 C238,345 236,360 232,372 C226,386 214,392 204,388 C196,380 196,360 198,338Z" opacity="0.55"/>
<path d="M440,228 C448,224 458,228 462,240 C464,255 462,268 456,276 C448,272 444,260 442,248 C440,240 438,232 440,228Z" opacity="0.6"/>
</g>
<g filter="url(#blur1)" fill="#f0f0f0">
<circle cx="304.4" cy="32.9" r="2.1" opacity="0.98"/>
<circle cx="308.6" cy="35.1" r="1.0" opacity="0.79"/>
<circle cx="316.0" cy="31.8" r="2.3" opacity="0.65"/>
<circle cx="298.9" cy="27.0" r="1.8" opacity="0.83"/>
<circle cx="282.5" cy="26.6" r="1.4" opacity="0.97"/>
<circle cx="309.6" cy="25.9" r="2.1" opacity="0.66"/>
<circle cx="304.2" cy="25.5" r="1.0" opacity="0.95"/>
<circle cx="289.5" cy="26.6" r="2.4" opacity="0.95"/>
<circle cx="292.4" cy="35.5" r="1.8" opacity="0.87"/>
<circle cx="289.4" cy="35.3" r="2.0" opacity="0.99"/>
<circle cx="264.4" cy="68.6" r="1.5" opacity="0.67"/>
<circle cx="259.9" cy="61.1" r="1.4" opacity="0.84"/>
<circle cx="259.0" cy="80.7" r="1.5" opacity="0.72"/>
<circle cx="263.9" cy="74.4" r="1.4" opacity="0.79"/>
<circle cx="263.2" cy="60.8" r="2.4" opacity="0.61"/>
<circle cx="263.5" cy="86.0" r="1.0" opacity="0.92"/>
<circle cx="261.2" cy="77.5" r="1.0" opacity="0.62"/>
<circle cx="260.1" cy="89.6" r="1.3" opacity="0.90"/>
<circle cx="460.2" cy="259.1" r="1.5" opacity="0.74"/>
<circle cx="455.3" cy="253.8" r="1.2" opacity="0.90"/>
<circle cx="458.6" cy="256.5" r="1.1" opacity="0.98"/>
<circle cx="450.1" cy="239.9" r="1.9" opacity="0.97"/>
<circle cx="453.1" cy="258.6" r="1.8" opacity="0.72"/>
<circle cx="452.8" cy="234.7" r="1.1" opacity="0.66"/>
<circle cx="457.3" cy="260.9" r="1.2" opacity="0.62"/>
<circle cx="460.8" cy="246.1" r="1.6" opacity="0.69"/>
<circle cx="456.1" cy="255.4" r="1.6" opacity="0.77"/>
<circle cx="449.7" cy="258.3" r="1.0" opacity="0.80"/>
<circle cx="459.1" cy="267.6" r="2.0" opacity="0.98"/>
<circle cx="456.6" cy="275.5" r="1.1" opacity="0.77"/>
<circle cx="450.8" cy="276.1" r="1.4" opacity="0.78"/>
<circle cx="461.0" cy="276.2" r="2.4" opacity="0.78"/>
<circle cx="214.7" cy="360.3" r="1.7" opacity="0.72"/>
<circle cx="212.3" cy="339.3" r="1.5" opacity="1.00"/>
<circle cx="227.9" cy="356.6" r="1.7" opacity="0.74"/>
<circle cx="203.5" cy="343.8" r="2.1" opacity="0.95"/>
<circle cx="211.1" cy="362.3" r="2.1" opacity="0.88"/>
<circle cx="219.6" cy="361.3" r="1.5" opacity="0.88"/>
<circle cx="208.9" cy="351.5" r="2.1" opacity="0.88"/>
<circle cx="209.2" cy="368.0" r="1.9" opacity="0.83"/>
<circle cx="201.3" cy="353.7" r="1.4" opacity="0.87"/>
<circle cx="214.0" cy="363.4" r="1.9" opacity="0.92"/>
<circle cx="210.7" cy="357.2" r="2.0" opacity="0.93"/>
<circle cx="210.8" cy="364.3" r="2.2" opacity="0.88"/>
<circle cx="228.3" cy="368.4" r="1.7" opacity="0.81"/>
<circle cx="205.7" cy="364.1" r="2.3" opacity="0.79"/>
<circle cx="220.4" cy="359.9" r="2.0" opacity="0.67"/>
<circle cx="222.9" cy="354.9" r="1.9" opacity="0.77"/>
<circle cx="231.0" cy="386.4" r="1.9" opacity="0.89"/>
<circle cx="216.7" cy="376.6" r="1.6" opacity="0.86"/>
<circle cx="221.3" cy="385.0" r="1.9" opacity="0.62"/>
<circle cx="227.3" cy="377.6" r="1.1" opacity="0.65"/>
<circle cx="223.6" cy="376.9" r="1.3" opacity="0.61"/>
<circle cx="227.2" cy="380.1" r="1.9" opacity="0.84"/>
<circle cx="221.7" cy="388.5" r="1.0" opacity="0.76"/>
<circle cx="222.7" cy="380.6" r="1.2" opacity="0.93"/>
<circle cx="135.2" cy="31.2" r="1.9" opacity="0.64"/>
<circle cx="136.3" cy="33.0" r="1.8" opacity="0.98"/>
<circle cx="137.9" cy="33.5" r="2.1" opacity="0.86"/>
<circle cx="319.0" cy="334.4" r="1.8" opacity="0.83"/>
<circle cx="323.7" cy="342.7" r="1.9" opacity="0.74"/>
<circle cx="323.1" cy="333.0" r="1.2" opacity="0.83"/>
<circle cx="301.8" cy="309.1" r="1.9" opacity="0.96"/>
<circle cx="298.0" cy="311.5" r="1.3" opacity="0.72"/>
<circle cx="307.6" cy="311.0" r="2.3" opacity="0.97"/>
<circle cx="301.5" cy="310.1" r="2.4" opacity="0.80"/>
<circle cx="298.6" cy="310.6" r="2.4" opacity="0.80"/>
<circle cx="447.9" cy="224.8" r="1.2" opacity="0.85"/>
<circle cx="449.4" cy="222.9" r="2.1" opacity="0.93"/>
<circle cx="445.1" cy="225.3" r="1.4" opacity="0.97"/>
<circle cx="114.8" cy="265.5" r="1.4" opacity="0.66"/>
<circle cx="116.9" cy="265.9" r="1.9" opacity="0.79"/>
<circle cx="113.4" cy="269.0" r="2.0" opacity="0.65"/>
<circle cx="114.6" cy="266.0" r="1.7" opacity="0.73"/>
<circle cx="231.0" cy="326.3" r="1.7" opacity="0.74"/>
<circle cx="235.5" cy="326.9" r="1.1" opacity="0.70"/>
<circle cx="232.6" cy="330.2" r="2.2" opacity="0.82"/>
<circle cx="271.1" cy="48.3" r="1.6" opacity="0.83"/>
<circle cx="276.7" cy="46.6" r="1.7" opacity="0.96"/>
<circle cx="274.1" cy="43.7" r="2.2" opacity="0.68"/>
<circle cx="146.4" cy="304.0" r="1.1" opacity="0.93"/>
<circle cx="149.6" cy="299.2" r="1.4" opacity="0.91"/>
<circle cx="151.3" cy="295.7" r="1.7" opacity="0.82"/>
<circle cx="418.0" cy="79.0" r="1.2" opacity="0.83"/>
<circle cx="421.1" cy="77.4" r="1.3" opacity="0.93"/>
<circle cx="420.9" cy="81.0" r="1.0" opacity="0.89"/>
<circle cx="207.7" cy="391.0" r="2.0" opacity="0.62"/>
<circle cx="205.5" cy="381.6" r="1.9" opacity="0.98"/>
<circle cx="203.4" cy="380.6" r="1.4" opacity="0.97"/>
<circle cx="194.4" cy="386.3" r="1.6" opacity="0.66"/>
<circle cx="202.0" cy="379.5" r="1.2" opacity="0.75"/>
<circle cx="193.2" cy="379.7" r="1.8" opacity="0.90"/>
<circle cx="272.6" cy="386.3" r="1.6" opacity="0.73"/>
<circle cx="267.0" cy="389.9" r="2.3" opacity="0.75"/>
<circle cx="256.1" cy="392.0" r="1.2" opacity="0.85"/>
<circle cx="265.1" cy="394.1" r="1.8" opacity="0.85"/>
<circle cx="298.1" cy="98.3" r="1.4" opacity="0.90"/>
<circle cx="300.1" cy="95.8" r="1.3" opacity="0.75"/>
<circle cx="301.9" cy="96.1" r="2.0" opacity="0.86"/>
<circle cx="309.5" cy="361.3" r="1.1" opacity="0.65"/>
<circle cx="312.6" cy="357.9" r="2.2" opacity="0.79"/>
</g>
<rect x="67" y="0.5" width="396.5" height="396.5" fill="#fff" filter="url(#grain)"/>
<path d="M138.1,52.1 C139.7,47.4 144.3,37.0 147.1,32.0 C149.9,27.0 151.1,24.4 155.1,22.0 C159.1,19.6 166.1,17.9 171.1,17.6 C176.1,17.3 181.4,18.3 185.1,20.0 C188.8,21.7 191.2,24.3 193.1,28.0 C195.0,31.7 196.7,38.0 196.7,42.0 C196.7,46.0 195.0,48.8 193.1,52.1 C191.2,55.5 189.1,59.1 185.1,62.1 C181.1,65.1 174.8,68.7 169.1,70.1 C163.4,71.5 155.9,70.8 151.1,70.5 C146.3,70.2 142.4,69.8 140.1,68.1 C137.8,66.4 137.8,62.8 137.5,60.1 C137.2,57.4 136.5,56.8 138.1,52.1Z" fill="rgb(190,190,190)" stroke="rgb(152,152,152)" stroke-width="3" filter="url(#fa)"/>
<path d="M262.8,58.6 C264.4,54.9 267.5,53.1 272.2,50.4 C276.9,47.7 285.0,44.0 290.9,42.2 C296.8,40.4 302.4,39.6 307.3,39.8 C312.2,40.0 317.5,40.9 320.2,43.3 C322.9,45.6 323.5,49.4 323.7,53.9 C323.9,58.4 323.0,64.8 321.4,70.3 C319.8,75.8 317.4,82.4 314.3,86.7 C311.2,91.0 306.9,93.8 302.6,96.0 C298.3,98.2 293.3,99.6 288.6,99.6 C283.9,99.6 278.2,98.2 274.5,96.0 C270.8,93.8 268.3,90.6 266.3,86.7 C264.3,82.8 262.9,77.3 262.3,72.6 C261.7,67.9 261.2,62.3 262.8,58.6Z" fill="rgb(175,175,175)" stroke="rgb(140,140,140)" stroke-width="3" filter="url(#fa)"/>
<path d="M360.5,132.1 C360.2,128.4 360.4,121.8 361.1,117.2 C361.8,112.7 362.9,108.7 364.8,104.8 C366.7,100.9 369.6,96.5 372.3,93.6 C375.0,90.7 377.5,89.0 381.0,87.4 C384.5,85.8 388.8,84.7 393.4,83.9 C397.9,83.1 403.1,82.6 408.3,82.4 C413.5,82.2 419.8,82.4 424.4,83.0 C428.9,83.6 432.5,84.5 435.6,86.1 C438.7,87.6 440.9,89.6 443.0,92.3 C445.1,95.0 446.6,99.0 448.0,102.3 C449.4,105.6 450.5,108.9 451.1,112.2 C451.7,115.5 451.9,118.8 451.7,122.1 C451.5,125.4 450.9,128.8 449.9,132.1 C448.9,135.4 447.5,138.7 445.5,142.0 C443.5,145.3 440.8,149.0 438.1,151.9 C435.4,154.8 432.5,157.3 429.4,159.4 C426.3,161.5 422.7,163.3 419.4,164.3 C416.1,165.3 413.0,165.6 409.5,165.6 C406.0,165.6 402.0,165.1 398.3,164.3 C394.6,163.5 390.7,162.2 387.2,160.6 C383.7,158.9 380.3,156.7 377.2,154.4 C374.1,152.1 371.0,149.5 368.6,147.0 C366.2,144.5 364.4,142.0 363.0,139.5 C361.6,137.0 360.8,135.8 360.5,132.1Z" fill="rgb(180,180,180)" stroke="rgb(144,144,144)" stroke-width="3" filter="url(#fa)"/>
<path d="M132.1,120.1 C132.8,115.4 135.9,113.8 139.1,112.1 C142.3,110.4 145.8,109.7 151.1,109.7 C156.4,109.7 164.4,110.4 171.1,112.1 C177.8,113.8 185.4,117.6 191.1,120.1 C196.8,122.6 201.9,123.8 205.1,127.1 C208.3,130.4 211.8,137.1 210.1,140.1 C208.4,143.1 198.9,143.6 195.1,145.1 C191.3,146.6 188.5,145.9 187.1,149.1 C185.7,152.3 187.4,160.5 186.7,164.2 C186.0,167.9 185.4,170.0 183.1,171.2 C180.8,172.4 177.8,172.4 173.1,171.2 C168.4,170.0 159.4,166.4 155.1,164.2 C150.8,162.0 149.4,159.9 147.1,158.2 C144.8,156.5 143.1,157.2 141.1,154.2 C139.1,151.2 136.6,145.8 135.1,140.1 C133.6,134.4 131.4,124.8 132.1,120.1Z" fill="rgb(175,175,175)" stroke="rgb(140,140,140)" stroke-width="3" filter="url(#fa)"/>
<path d="M229.8,266.0 C230.7,262.7 231.8,258.2 234.7,253.7 C237.5,249.2 242.0,243.1 246.9,239.1 C251.8,235.1 258.7,231.4 264.0,229.8 C269.3,228.2 274.1,228.6 278.6,229.3 C283.1,230.0 288.2,231.5 290.8,234.2 C293.4,236.8 294.5,241.5 294.5,245.2 C294.5,248.9 293.4,252.7 290.8,256.2 C288.2,259.7 283.5,262.9 278.6,266.0 C273.7,269.1 266.8,272.1 261.5,274.5 C256.2,276.9 251.4,279.6 246.9,280.6 C242.4,281.6 237.6,281.8 234.7,280.6 C231.8,279.4 230.1,275.7 229.3,273.3 C228.5,270.9 228.9,269.3 229.8,266.0Z" fill="rgb(190,190,190)" stroke="rgb(152,152,152)" stroke-width="3" filter="url(#fa)"/>
<path d="M356.8,273.3 C356.6,268.4 358.4,261.5 360.4,256.2 C362.4,250.9 365.5,245.4 369.0,241.5 C372.5,237.6 376.3,235.1 381.2,233.0 C386.1,230.9 392.6,229.0 398.3,228.8 C404.0,228.6 410.5,229.9 415.4,231.8 C420.3,233.7 424.1,236.7 427.6,240.3 C431.1,244.0 434.4,249.4 436.2,253.7 C438.0,258.0 438.8,261.1 438.6,266.0 C438.4,270.9 437.1,277.9 434.9,283.0 C432.7,288.1 429.3,293.2 425.2,296.5 C421.1,299.8 416.2,301.6 410.5,302.6 C404.8,303.6 397.1,303.6 391.0,302.6 C384.9,301.6 378.8,299.4 373.9,296.5 C369.0,293.6 364.5,289.4 361.7,285.5 C358.9,281.6 357.0,278.2 356.8,273.3Z" fill="rgb(200,200,200)" stroke="rgb(160,160,160)" stroke-width="3" filter="url(#fa)"/>
<path d="M110.0,280.1 C111.7,277.1 114.6,273.8 117.1,272.1 C119.6,270.4 121.9,269.7 125.1,269.7 C128.3,269.7 133.1,270.4 136.1,272.1 C139.1,273.8 141.8,276.1 143.1,280.1 C144.4,284.1 144.9,290.1 144.1,296.1 C143.3,302.1 140.9,309.4 138.1,316.1 C135.3,322.8 130.6,330.1 127.1,336.1 C123.6,342.1 120.1,348.4 117.1,352.2 C114.1,356.0 111.7,358.2 109.0,359.2 C106.3,360.2 103.7,359.4 101.0,358.2 C98.3,357.0 94.7,355.2 93.0,352.2 C91.3,349.2 90.4,344.5 90.6,340.1 C90.8,335.8 92.3,331.4 94.0,326.1 C95.7,320.8 98.8,314.1 101.0,308.1 C103.2,302.1 105.5,294.8 107.0,290.1 C108.5,285.4 108.3,283.1 110.0,280.1Z" fill="rgb(190,190,190)" stroke="rgb(152,152,152)" stroke-width="3" filter="url(#fa)"/>
<path d="M235.9,351.4 C236.1,346.5 237.3,336.8 239.5,331.9 C241.7,327.0 244.4,324.6 249.3,322.1 C254.2,319.6 262.4,317.2 268.9,316.8 C275.4,316.4 282.3,318.0 288.4,319.7 C294.5,321.4 301.2,323.8 305.5,327.0 C309.8,330.2 312.6,334.3 314.0,339.2 C315.4,344.1 315.4,351.4 314.0,356.3 C312.6,361.2 309.4,365.2 305.5,368.5 C301.6,371.8 296.1,374.5 290.8,375.9 C285.5,377.3 279.0,377.7 273.7,377.1 C268.4,376.5 263.6,373.6 259.1,372.2 C254.6,370.8 250.4,370.3 246.9,368.5 C243.4,366.7 240.1,364.1 238.3,361.2 C236.5,358.3 235.7,356.3 235.9,351.4Z" fill="rgb(225,225,225)" stroke="rgb(180,180,180)" stroke-width="3" filter="url(#fa)"/>
<path d="M326.3,361.2 C326.7,356.7 327.3,350.7 329.9,346.6 C332.5,342.5 337.2,339.7 342.1,336.8 C347.0,333.9 353.1,330.4 359.2,329.0 C365.3,327.6 373.1,327.3 378.8,328.2 C384.5,329.1 390.2,331.2 393.4,334.3 C396.6,337.4 397.6,342.1 397.8,346.6 C398.0,351.1 397.0,357.1 394.6,361.2 C392.2,365.3 388.4,368.1 383.7,371.0 C379.0,373.9 372.3,376.3 366.6,378.3 C360.9,380.3 354.8,382.8 349.5,383.2 C344.2,383.6 338.5,382.3 334.8,380.7 C331.1,379.1 328.9,376.6 327.5,373.4 C326.1,370.1 325.9,365.7 326.3,361.2Z" fill="rgb(200,200,200)" stroke="rgb(160,160,160)" stroke-width="3" filter="url(#fa)"/>
<g fill="#111" filter="url(#blur1)"><circle cx="170" cy="146" r="2.5"/><circle cx="256" cy="265" r="2"/></g>
<g fill="none" stroke="#e8141c" stroke-width="1.4">
<path d="M138.1,52.1 C139.7,47.4 144.3,37.0 147.1,32.0 C149.9,27.0 151.1,24.4 155.1,22.0 C159.1,19.6 166.1,17.9 171.1,17.6 C176.1,17.3 181.4,18.3 185.1,20.0 C188.8,21.7 191.2,24.3 193.1,28.0 C195.0,31.7 196.7,38.0 196.7,42.0 C196.7,46.0 195.0,48.8 193.1,52.1 C191.2,55.5 189.1,59.1 185.1,62.1 C181.1,65.1 174.8,68.7 169.1,70.1 C163.4,71.5 155.9,70.8 151.1,70.5 C146.3,70.2 142.4,69.8 140.1,68.1 C137.8,66.4 137.8,62.8 137.5,60.1 C137.2,57.4 136.5,56.8 138.1,52.1Z"/>
<path d="M262.8,58.6 C264.4,54.9 267.5,53.1 272.2,50.4 C276.9,47.7 285.0,44.0 290.9,42.2 C296.8,40.4 302.4,39.6 307.3,39.8 C312.2,40.0 317.5,40.9 320.2,43.3 C322.9,45.6 323.5,49.4 323.7,53.9 C323.9,58.4 323.0,64.8 321.4,70.3 C319.8,75.8 317.4,82.4 314.3,86.7 C311.2,91.0 306.9,93.8 302.6,96.0 C298.3,98.2 293.3,99.6 288.6,99.6 C283.9,99.6 278.2,98.2 274.5,96.0 C270.8,93.8 268.3,90.6 266.3,86.7 C264.3,82.8 262.9,77.3 262.3,72.6 C261.7,67.9 261.2,62.3 262.8,58.6Z"/>
<path d="M360.5,132.1 C360.2,128.4 360.4,121.8 361.1,117.2 C361.8,112.7 362.9,108.7 364.8,104.8 C366.7,100.9 369.6,96.5 372.3,93.6 C375.0,90.7 377.5,89.0 381.0,87.4 C384.5,85.8 388.8,84.7 393.4,83.9 C397.9,83.1 403.1,82.6 408.3,82.4 C413.5,82.2 419.8,82.4 424.4,83.0 C428.9,83.6 432.5,84.5 435.6,86.1 C438.7,87.6 440.9,89.6 443.0,92.3 C445.1,95.0 446.6,99.0 448.0,102.3 C449.4,105.6 450.5,108.9 451.1,112.2 C451.7,115.5 451.9,118.8 451.7,122.1 C451.5,125.4 450.9,128.8 449.9,132.1 C448.9,135.4 447.5,138.7 445.5,142.0 C443.5,145.3 440.8,149.0 438.1,151.9 C435.4,154.8 432.5,157.3 429.4,159.4 C426.3,161.5 422.7,163.3 419.4,164.3 C416.1,165.3 413.0,165.6 409.5,165.6 C406.0,165.6 402.0,165.1 398.3,164.3 C394.6,163.5 390.7,162.2 387.2,160.6 C383.7,158.9 380.3,156.7 377.2,154.4 C374.1,152.1 371.0,149.5 368.6,147.0 C366.2,144.5 364.4,142.0 363.0,139.5 C361.6,137.0 360.8,135.8 360.5,132.1Z"/>
<path d="M132.1,120.1 C132.8,115.4 135.9,113.8 139.1,112.1 C142.3,110.4 145.8,109.7 151.1,109.7 C156.4,109.7 164.4,110.4 171.1,112.1 C177.8,113.8 185.4,117.6 191.1,120.1 C196.8,122.6 201.9,123.8 205.1,127.1 C208.3,130.4 211.8,137.1 210.1,140.1 C208.4,143.1 198.9,143.6 195.1,145.1 C191.3,146.6 188.5,145.9 187.1,149.1 C185.7,152.3 187.4,160.5 186.7,164.2 C186.0,167.9 185.4,170.0 183.1,171.2 C180.8,172.4 177.8,172.4 173.1,171.2 C168.4,170.0 159.4,166.4 155.1,164.2 C150.8,162.0 149.4,159.9 147.1,158.2 C144.8,156.5 143.1,157.2 141.1,154.2 C139.1,151.2 136.6,145.8 135.1,140.1 C133.6,134.4 131.4,124.8 132.1,120.1Z"/>
<path d="M229.8,266.0 C230.7,262.7 231.8,258.2 234.7,253.7 C237.5,249.2 242.0,243.1 246.9,239.1 C251.8,235.1 258.7,231.4 264.0,229.8 C269.3,228.2 274.1,228.6 278.6,229.3 C283.1,230.0 288.2,231.5 290.8,234.2 C293.4,236.8 294.5,241.5 294.5,245.2 C294.5,248.9 293.4,252.7 290.8,256.2 C288.2,259.7 283.5,262.9 278.6,266.0 C273.7,269.1 266.8,272.1 261.5,274.5 C256.2,276.9 251.4,279.6 246.9,280.6 C242.4,281.6 237.6,281.8 234.7,280.6 C231.8,279.4 230.1,275.7 229.3,273.3 C228.5,270.9 228.9,269.3 229.8,266.0Z"/>
<path d="M356.8,273.3 C356.6,268.4 358.4,261.5 360.4,256.2 C362.4,250.9 365.5,245.4 369.0,241.5 C372.5,237.6 376.3,235.1 381.2,233.0 C386.1,230.9 392.6,229.0 398.3,228.8 C404.0,228.6 410.5,229.9 415.4,231.8 C420.3,233.7 424.1,236.7 427.6,240.3 C431.1,244.0 434.4,249.4 436.2,253.7 C438.0,258.0 438.8,261.1 438.6,266.0 C438.4,270.9 437.1,277.9 434.9,283.0 C432.7,288.1 429.3,293.2 425.2,296.5 C421.1,299.8 416.2,301.6 410.5,302.6 C404.8,303.6 397.1,303.6 391.0,302.6 C384.9,301.6 378.8,299.4 373.9,296.5 C369.0,293.6 364.5,289.4 361.7,285.5 C358.9,281.6 357.0,278.2 356.8,273.3Z"/>
<path d="M110.0,280.1 C111.7,277.1 114.6,273.8 117.1,272.1 C119.6,270.4 121.9,269.7 125.1,269.7 C128.3,269.7 133.1,270.4 136.1,272.1 C139.1,273.8 141.8,276.1 143.1,280.1 C144.4,284.1 144.9,290.1 144.1,296.1 C143.3,302.1 140.9,309.4 138.1,316.1 C135.3,322.8 130.6,330.1 127.1,336.1 C123.6,342.1 120.1,348.4 117.1,352.2 C114.1,356.0 111.7,358.2 109.0,359.2 C106.3,360.2 103.7,359.4 101.0,358.2 C98.3,357.0 94.7,355.2 93.0,352.2 C91.3,349.2 90.4,344.5 90.6,340.1 C90.8,335.8 92.3,331.4 94.0,326.1 C95.7,320.8 98.8,314.1 101.0,308.1 C103.2,302.1 105.5,294.8 107.0,290.1 C108.5,285.4 108.3,283.1 110.0,280.1Z"/>
<path d="M235.9,351.4 C236.1,346.5 237.3,336.8 239.5,331.9 C241.7,327.0 244.4,324.6 249.3,322.1 C254.2,319.6 262.4,317.2 268.9,316.8 C275.4,316.4 282.3,318.0 288.4,319.7 C294.5,321.4 301.2,323.8 305.5,327.0 C309.8,330.2 312.6,334.3 314.0,339.2 C315.4,344.1 315.4,351.4 314.0,356.3 C312.6,361.2 309.4,365.2 305.5,368.5 C301.6,371.8 296.1,374.5 290.8,375.9 C285.5,377.3 279.0,377.7 273.7,377.1 C268.4,376.5 263.6,373.6 259.1,372.2 C254.6,370.8 250.4,370.3 246.9,368.5 C243.4,366.7 240.1,364.1 238.3,361.2 C236.5,358.3 235.7,356.3 235.9,351.4Z"/>
<path d="M326.3,361.2 C326.7,356.7 327.3,350.7 329.9,346.6 C332.5,342.5 337.2,339.7 342.1,336.8 C347.0,333.9 353.1,330.4 359.2,329.0 C365.3,327.6 373.1,327.3 378.8,328.2 C384.5,329.1 390.2,331.2 393.4,334.3 C396.6,337.4 397.6,342.1 397.8,346.6 C398.0,351.1 397.0,357.1 394.6,361.2 C392.2,365.3 388.4,368.1 383.7,371.0 C379.0,373.9 372.3,376.3 366.6,378.3 C360.9,380.3 354.8,382.8 349.5,383.2 C344.2,383.6 338.5,382.3 334.8,380.7 C331.1,379.1 328.9,376.6 327.5,373.4 C326.1,370.1 325.9,365.7 326.3,361.2Z"/>
</g>
</g>
<text x="79.5" y="41.3" font-size="34" fill="#fff">(a)</text>
<rect x="539.8" y="2.3" width="397.1" height="396.8" fill="#000"/>
<path d="M611.6,52.6 C613.2,47.9 617.8,37.5 620.6,32.5 C623.4,27.5 624.6,24.9 628.6,22.5 C632.6,20.1 639.6,18.4 644.6,18.1 C649.6,17.8 654.9,18.8 658.6,20.5 C662.3,22.2 664.7,24.8 666.6,28.5 C668.5,32.2 670.2,38.5 670.2,42.5 C670.2,46.5 668.5,49.2 666.6,52.6 C664.7,56.0 662.6,59.6 658.6,62.6 C654.6,65.6 648.3,69.2 642.6,70.6 C636.9,72.0 629.4,71.3 624.6,71.0 C619.8,70.7 615.9,70.3 613.6,68.6 C611.3,66.9 611.3,63.3 611.0,60.6 C610.7,57.9 610.0,57.3 611.6,52.6Z" fill="#fff" filter="url(#fb1)"/>
<path d="M736.3,59.1 C737.9,55.4 741.0,53.6 745.7,50.9 C750.4,48.2 758.5,44.5 764.4,42.7 C770.2,40.9 775.9,40.1 780.8,40.3 C785.7,40.5 791.0,41.4 793.7,43.8 C796.4,46.1 797.0,49.9 797.2,54.4 C797.4,58.9 796.5,65.3 794.9,70.8 C793.3,76.3 790.9,82.9 787.8,87.2 C784.7,91.5 780.4,94.3 776.1,96.5 C771.8,98.7 766.8,100.1 762.1,100.1 C757.4,100.1 751.7,98.7 748.0,96.5 C744.3,94.3 741.8,91.1 739.8,87.2 C737.8,83.3 736.4,77.8 735.8,73.1 C735.2,68.4 734.6,62.8 736.3,59.1Z" fill="#fff" filter="url(#fb2)"/>
<path d="M834.0,132.6 C833.7,128.9 833.9,122.2 834.6,117.7 C835.3,113.2 836.4,109.2 838.3,105.3 C840.2,101.4 843.1,97.0 845.8,94.1 C848.5,91.2 851.0,89.5 854.5,87.9 C858.0,86.3 862.4,85.2 866.9,84.4 C871.4,83.6 876.6,83.1 881.8,82.9 C887.0,82.8 893.3,82.9 897.9,83.5 C902.5,84.1 906.0,85.0 909.1,86.6 C912.2,88.1 914.4,90.1 916.5,92.8 C918.6,95.5 920.1,99.5 921.5,102.8 C922.9,106.1 924.0,109.4 924.6,112.7 C925.2,116.0 925.4,119.3 925.2,122.6 C925.0,125.9 924.4,129.3 923.4,132.6 C922.4,135.9 921.0,139.2 919.0,142.5 C917.0,145.8 914.3,149.5 911.6,152.4 C908.9,155.3 906.0,157.8 902.9,159.9 C899.8,162.0 896.2,163.8 892.9,164.8 C889.6,165.8 886.5,166.1 883.0,166.1 C879.5,166.1 875.5,165.6 871.8,164.8 C868.1,164.0 864.2,162.8 860.7,161.1 C857.2,159.4 853.8,157.2 850.7,154.9 C847.6,152.6 844.5,150.0 842.1,147.5 C839.7,145.0 837.9,142.5 836.5,140.0 C835.1,137.5 834.3,136.3 834.0,132.6Z" fill="#fff" filter="url(#fb3)"/>
<path d="M605.6,120.6 C606.3,115.9 609.4,114.3 612.6,112.6 C615.8,110.9 619.3,110.2 624.6,110.2 C629.9,110.2 637.9,110.9 644.6,112.6 C651.3,114.3 658.9,118.1 664.6,120.6 C670.3,123.1 675.4,124.3 678.6,127.6 C681.8,130.9 685.3,137.6 683.6,140.6 C681.9,143.6 672.4,144.1 668.6,145.6 C664.8,147.1 662.0,146.4 660.6,149.6 C659.2,152.8 660.9,161.0 660.2,164.7 C659.5,168.4 658.9,170.5 656.6,171.7 C654.3,172.9 651.3,172.9 646.6,171.7 C641.9,170.5 632.9,166.9 628.6,164.7 C624.3,162.5 622.9,160.4 620.6,158.7 C618.3,157.0 616.6,157.7 614.6,154.7 C612.6,151.7 610.1,146.3 608.6,140.6 C607.1,134.9 604.9,125.3 605.6,120.6Z" fill="#fff" filter="url(#fb4)"/>
<path d="M703.3,266.5 C704.2,263.2 705.4,258.7 708.2,254.2 C711.1,249.7 715.5,243.6 720.4,239.6 C725.3,235.6 732.2,231.9 737.5,230.3 C742.8,228.7 747.6,229.1 752.1,229.8 C756.6,230.5 761.6,232.0 764.3,234.7 C766.9,237.3 768.0,242.0 768.0,245.7 C768.0,249.4 766.9,253.2 764.3,256.7 C761.6,260.2 757.0,263.4 752.1,266.5 C747.2,269.6 740.3,272.6 735.0,275.0 C729.7,277.4 724.9,280.1 720.4,281.1 C715.9,282.1 711.1,282.3 708.2,281.1 C705.3,279.9 703.6,276.2 702.8,273.8 C702.0,271.4 702.4,269.8 703.3,266.5Z" fill="#fff" filter="url(#fb5)"/>
<path d="M830.3,273.8 C830.1,268.9 831.9,262.0 833.9,256.7 C835.9,251.4 839.0,245.9 842.5,242.0 C846.0,238.1 849.8,235.6 854.7,233.5 C859.6,231.4 866.1,229.5 871.8,229.3 C877.5,229.1 884.0,230.4 888.9,232.3 C893.8,234.2 897.6,237.2 901.1,240.8 C904.6,244.5 907.9,249.9 909.7,254.2 C911.5,258.5 912.3,261.6 912.1,266.5 C911.9,271.4 910.6,278.4 908.4,283.5 C906.2,288.6 902.8,293.7 898.7,297.0 C894.6,300.3 889.7,302.1 884.0,303.1 C878.3,304.1 870.6,304.1 864.5,303.1 C858.4,302.1 852.3,299.9 847.4,297.0 C842.5,294.1 838.1,289.9 835.2,286.0 C832.4,282.1 830.5,278.7 830.3,273.8Z" fill="#fff" filter="url(#fb6)"/>
<path d="M583.5,280.6 C585.2,277.6 588.1,274.3 590.6,272.6 C593.1,270.9 595.4,270.2 598.6,270.2 C601.8,270.2 606.6,270.9 609.6,272.6 C612.6,274.3 615.3,276.6 616.6,280.6 C617.9,284.6 618.4,290.6 617.6,296.6 C616.8,302.6 614.4,309.9 611.6,316.6 C608.8,323.3 604.1,330.6 600.6,336.6 C597.1,342.6 593.6,348.9 590.6,352.7 C587.6,356.5 585.2,358.7 582.5,359.7 C579.8,360.7 577.2,359.9 574.5,358.7 C571.8,357.5 568.2,355.7 566.5,352.7 C564.8,349.7 563.9,345.0 564.1,340.6 C564.3,336.2 565.8,331.9 567.5,326.6 C569.2,321.3 572.3,314.6 574.5,308.6 C576.7,302.6 579.0,295.3 580.5,290.6 C582.0,285.9 581.8,283.6 583.5,280.6Z" fill="#fff" filter="url(#fb7)"/>
<path d="M709.4,351.9 C709.6,347.0 710.8,337.3 713.0,332.4 C715.2,327.5 717.9,325.1 722.8,322.6 C727.7,320.1 735.9,317.7 742.4,317.3 C748.9,316.9 755.8,318.5 761.9,320.2 C768.0,321.9 774.7,324.2 779.0,327.5 C783.3,330.8 786.1,334.8 787.5,339.7 C788.9,344.6 788.9,351.9 787.5,356.8 C786.1,361.7 782.9,365.7 779.0,369.0 C775.1,372.3 769.6,375.0 764.3,376.4 C759.0,377.8 752.5,378.2 747.2,377.6 C741.9,377.0 737.1,374.1 732.6,372.7 C728.1,371.3 723.9,370.8 720.4,369.0 C716.9,367.2 713.6,364.6 711.8,361.7 C710.0,358.8 709.2,356.8 709.4,351.9Z" fill="#fff" filter="url(#fb8)"/>
<path d="M799.8,361.7 C800.2,357.2 800.8,351.2 803.4,347.1 C806.0,343.0 810.7,340.2 815.6,337.3 C820.5,334.4 826.6,330.9 832.7,329.5 C838.8,328.1 846.6,327.8 852.3,328.7 C858.0,329.6 863.7,331.7 866.9,334.8 C870.1,337.9 871.1,342.6 871.3,347.1 C871.5,351.6 870.5,357.6 868.1,361.7 C865.8,365.8 861.9,368.6 857.2,371.5 C852.5,374.4 845.8,376.8 840.1,378.8 C834.4,380.8 828.3,383.3 823.0,383.7 C817.7,384.1 812.0,382.8 808.3,381.2 C804.6,379.6 802.4,377.1 801.0,373.9 C799.6,370.6 799.4,366.2 799.8,361.7Z" fill="#fff" filter="url(#fb9)"/>
<clipPath id="cn2"><path d="M736.3,59.1 C737.9,55.4 741.0,53.6 745.7,50.9 C750.4,48.2 758.5,44.5 764.4,42.7 C770.2,40.9 775.9,40.1 780.8,40.3 C785.7,40.5 791.0,41.4 793.7,43.8 C796.4,46.1 797.0,49.9 797.2,54.4 C797.4,58.9 796.5,65.3 794.9,70.8 C793.3,76.3 790.9,82.9 787.8,87.2 C784.7,91.5 780.4,94.3 776.1,96.5 C771.8,98.7 766.8,100.1 762.1,100.1 C757.4,100.1 751.7,98.7 748.0,96.5 C744.3,94.3 741.8,91.1 739.8,87.2 C737.8,83.3 736.4,77.8 735.8,73.1 C735.2,68.4 734.6,62.8 736.3,59.1Z"/></clipPath>
<clipPath id="cn4"><path d="M605.6,120.6 C606.3,115.9 609.4,114.3 612.6,112.6 C615.8,110.9 619.3,110.2 624.6,110.2 C629.9,110.2 637.9,110.9 644.6,112.6 C651.3,114.3 658.9,118.1 664.6,120.6 C670.3,123.1 675.4,124.3 678.6,127.6 C681.8,130.9 685.3,137.6 683.6,140.6 C681.9,143.6 672.4,144.1 668.6,145.6 C664.8,147.1 662.0,146.4 660.6,149.6 C659.2,152.8 660.9,161.0 660.2,164.7 C659.5,168.4 658.9,170.5 656.6,171.7 C654.3,172.9 651.3,172.9 646.6,171.7 C641.9,170.5 632.9,166.9 628.6,164.7 C624.3,162.5 622.9,160.4 620.6,158.7 C618.3,157.0 616.6,157.7 614.6,154.7 C612.6,151.7 610.1,146.3 608.6,140.6 C607.1,134.9 604.9,125.3 605.6,120.6Z"/></clipPath>
<clipPath id="cn6"><path d="M830.3,273.8 C830.1,268.9 831.9,262.0 833.9,256.7 C835.9,251.4 839.0,245.9 842.5,242.0 C846.0,238.1 849.8,235.6 854.7,233.5 C859.6,231.4 866.1,229.5 871.8,229.3 C877.5,229.1 884.0,230.4 888.9,232.3 C893.8,234.2 897.6,237.2 901.1,240.8 C904.6,244.5 907.9,249.9 909.7,254.2 C911.5,258.5 912.3,261.6 912.1,266.5 C911.9,271.4 910.6,278.4 908.4,283.5 C906.2,288.6 902.8,293.7 898.7,297.0 C894.6,300.3 889.7,302.1 884.0,303.1 C878.3,304.1 870.6,304.1 864.5,303.1 C858.4,302.1 852.3,299.9 847.4,297.0 C842.5,294.1 838.1,289.9 835.2,286.0 C832.4,282.1 830.5,278.7 830.3,273.8Z"/></clipPath>
<clipPath id="cn7"><path d="M583.5,280.6 C585.2,277.6 588.1,274.3 590.6,272.6 C593.1,270.9 595.4,270.2 598.6,270.2 C601.8,270.2 606.6,270.9 609.6,272.6 C612.6,274.3 615.3,276.6 616.6,280.6 C617.9,284.6 618.4,290.6 617.6,296.6 C616.8,302.6 614.4,309.9 611.6,316.6 C608.8,323.3 604.1,330.6 600.6,336.6 C597.1,342.6 593.6,348.9 590.6,352.7 C587.6,356.5 585.2,358.7 582.5,359.7 C579.8,360.7 577.2,359.9 574.5,358.7 C571.8,357.5 568.2,355.7 566.5,352.7 C564.8,349.7 563.9,345.0 564.1,340.6 C564.3,336.2 565.8,331.9 567.5,326.6 C569.2,321.3 572.3,314.6 574.5,308.6 C576.7,302.6 579.0,295.3 580.5,290.6 C582.0,285.9 581.8,283.6 583.5,280.6Z"/></clipPath>
<clipPath id="cn9"><path d="M799.8,361.7 C800.2,357.2 800.8,351.2 803.4,347.1 C806.0,343.0 810.7,340.2 815.6,337.3 C820.5,334.4 826.6,330.9 832.7,329.5 C838.8,328.1 846.6,327.8 852.3,328.7 C858.0,329.6 863.7,331.7 866.9,334.8 C870.1,337.9 871.1,342.6 871.3,347.1 C871.5,351.6 870.5,357.6 868.1,361.7 C865.8,365.8 861.9,368.6 857.2,371.5 C852.5,374.4 845.8,376.8 840.1,378.8 C834.4,380.8 828.3,383.3 823.0,383.7 C817.7,384.1 812.0,382.8 808.3,381.2 C804.6,379.6 802.4,377.1 801.0,373.9 C799.6,370.6 799.4,366.2 799.8,361.7Z"/></clipPath>
<g clip-path="url(#cn2)"><polyline points="736.3,59.1 735.8,73.1 739.8,87.2 748.0,96.5 762.1,100.1" fill="none" stroke="#c00000" stroke-width="5" stroke-linecap="round" opacity="0.9"/></g>
<g clip-path="url(#cn4)"><polyline points="605.6,120.6 608.6,140.6 614.6,154.7 620.6,158.7 628.6,164.7 646.6,171.7" fill="none" stroke="#c00000" stroke-width="5" stroke-linecap="round" opacity="0.9"/></g>
<g clip-path="url(#cn7)"><polyline points="567.5,326.6 564.1,340.6 566.5,352.7" fill="none" stroke="#c00000" stroke-width="5" stroke-linecap="round" opacity="0.9"/></g>
<g clip-path="url(#cn9)"><polyline points="803.4,347.1 799.8,361.7 801.0,373.9 808.3,381.2 823.0,383.7" fill="none" stroke="#c00000" stroke-width="5" stroke-linecap="round" opacity="0.9"/></g>
<g clip-path="url(#cn6)"><polyline points="830.3,273.8 835.2,286.0 847.4,297.0" fill="none" stroke="#c00000" stroke-width="5" stroke-linecap="round" opacity="0.9"/></g>
<g filter="url(#blur05)">
<ellipse cx="628.1" cy="130.1" rx="4.6" ry="4.6" fill="#900000"/>
<ellipse cx="639.3" cy="147.3" rx="5.0" ry="5.0" fill="#900000"/>
<ellipse cx="826.3" cy="350.3" rx="4.8" ry="4.5" fill="#900000"/>
<ellipse cx="757.0" cy="78.0" rx="5.0" ry="4.0" fill="#a00000"/>
<ellipse cx="777.0" cy="64.0" rx="4.0" ry="3.5" fill="#a00000"/>
<ellipse cx="765.0" cy="52.0" rx="2.0" ry="2.0" fill="#c00000"/>
<ellipse cx="779.0" cy="92.0" rx="2.5" ry="2.0" fill="#c00000"/>
<ellipse cx="869.0" cy="88.0" rx="5.0" ry="3.0" fill="#900000"/>
<ellipse cx="907.0" cy="96.0" rx="2.5" ry="2.5" fill="#d01000"/>
<ellipse cx="590.0" cy="298.3" rx="3.0" ry="3.0" fill="#e03000"/>
<ellipse cx="602.0" cy="300.0" rx="3.5" ry="3.0" fill="#d00000"/>
<ellipse cx="848.3" cy="252.2" rx="3.0" ry="2.5" fill="#d01000"/>
<ellipse cx="894.3" cy="252.2" rx="3.0" ry="3.0" fill="#c00000"/>
<ellipse cx="860.0" cy="272.0" rx="2.5" ry="2.0" fill="#e02000"/>
<ellipse cx="844.0" cy="288.0" rx="2.5" ry="2.5" fill="#d01000"/>
</g>
<rect x="566" y="375.5" width="51" height="2.6" fill="#fff"/>
<text x="549.5" y="38.3" font-size="34" fill="#fff">(b)</text>
<rect x="701.4" y="301.1" width="95.1" height="94.9" fill="none" stroke="#ff0000" stroke-width="4.7"/>
<path d="M701,396.5 L539.4,458 M797,396.5 L936,458" stroke="#ff0000" stroke-width="4" fill="none"/>
<rect x="953.3" y="1.5" width="45.2" height="854.4" fill="url(#cbar)"/>
<text x="956" y="40.5" font-size="37" fill="#fff">13</text>
<text x="965" y="835" font-size="37" fill="#fff">9</text>
<text transform="translate(963,368.5) rotate(90)" font-size="37" fill="#000">&#964;<tspan font-size="24" dy="8">w</tspan><tspan dy="-8"> / ns</tspan></text>
<rect x="539.1" y="458.9" width="396.9" height="397" fill="#000"/>
<clipPath id="clipD"><path d="M580.9,688.8 C579.3,680.5 581.8,671.6 582.8,662.1 C583.8,652.6 584.1,641.8 586.6,631.7 C589.1,621.6 593.5,610.2 598.0,601.3 C602.5,592.4 606.9,585.5 613.3,578.5 C619.6,571.5 627.2,565.1 636.1,559.4 C645.0,553.7 655.1,548.3 666.5,544.2 C677.9,540.1 691.8,536.5 704.5,534.7 C717.2,532.9 732.5,533.2 742.6,533.6 C752.8,534.0 756.5,535.0 765.4,537.4 C774.3,539.8 784.4,544.3 795.8,548.0 C807.2,551.7 822.5,556.2 833.9,559.4 C845.3,562.6 854.8,563.3 864.3,567.1 C873.8,570.9 883.9,576.0 890.9,582.3 C897.9,588.6 902.0,596.9 906.1,605.1 C910.2,613.3 914.0,620.9 915.6,631.7 C917.2,642.5 916.6,657.1 915.6,669.8 C914.6,682.5 912.1,696.4 909.9,707.8 C907.7,719.2 905.5,731.9 902.3,738.2 C899.1,744.5 896.0,742.6 890.9,745.8 C885.8,749.0 878.9,753.4 871.9,757.2 C864.9,761.0 856.7,764.2 849.1,768.7 C841.5,773.2 833.3,779.8 826.3,783.9 C819.3,788.0 818.6,791.8 807.2,793.4 C795.8,795.0 771.1,795.0 757.8,793.4 C744.5,791.8 736.9,787.1 727.4,783.9 C717.9,780.7 709.6,776.3 700.7,774.4 C691.8,772.5 679.2,774.7 674.1,772.5 C669.0,770.3 676.6,764.8 670.3,761.0 C664.0,757.2 646.2,754.0 636.1,749.6 C626.0,745.2 616.7,740.7 609.4,734.4 C602.1,728.1 597.0,719.2 592.3,711.6 C587.5,704.0 582.5,697.0 580.9,688.8Z"/></clipPath>
<g filter="url(#fd)">
<path d="M580.9,688.8 C579.3,680.5 581.8,671.6 582.8,662.1 C583.8,652.6 584.1,641.8 586.6,631.7 C589.1,621.6 593.5,610.2 598.0,601.3 C602.5,592.4 606.9,585.5 613.3,578.5 C619.6,571.5 627.2,565.1 636.1,559.4 C645.0,553.7 655.1,548.3 666.5,544.2 C677.9,540.1 691.8,536.5 704.5,534.7 C717.2,532.9 732.5,533.2 742.6,533.6 C752.8,534.0 756.5,535.0 765.4,537.4 C774.3,539.8 784.4,544.3 795.8,548.0 C807.2,551.7 822.5,556.2 833.9,559.4 C845.3,562.6 854.8,563.3 864.3,567.1 C873.8,570.9 883.9,576.0 890.9,582.3 C897.9,588.6 902.0,596.9 906.1,605.1 C910.2,613.3 914.0,620.9 915.6,631.7 C917.2,642.5 916.6,657.1 915.6,669.8 C914.6,682.5 912.1,696.4 909.9,707.8 C907.7,719.2 905.5,731.9 902.3,738.2 C899.1,744.5 896.0,742.6 890.9,745.8 C885.8,749.0 878.9,753.4 871.9,757.2 C864.9,761.0 856.7,764.2 849.1,768.7 C841.5,773.2 833.3,779.8 826.3,783.9 C819.3,788.0 818.6,791.8 807.2,793.4 C795.8,795.0 771.1,795.0 757.8,793.4 C744.5,791.8 736.9,787.1 727.4,783.9 C717.9,780.7 709.6,776.3 700.7,774.4 C691.8,772.5 679.2,774.7 674.1,772.5 C669.0,770.3 676.6,764.8 670.3,761.0 C664.0,757.2 646.2,754.0 636.1,749.6 C626.0,745.2 616.7,740.7 609.4,734.4 C602.1,728.1 597.0,719.2 592.3,711.6 C587.5,704.0 582.5,697.0 580.9,688.8Z" fill="#808080"/>
<g clip-path="url(#clipD)"><g filter="url(#blur3)">
<ellipse cx="632.0" cy="603.0" rx="26.0" ry="13.0" fill="rgb(192,192,192)"/>
<ellipse cx="610.0" cy="598.0" rx="10.0" ry="8.0" fill="rgb(180,180,180)"/>
<ellipse cx="785.0" cy="665.0" rx="9.0" ry="8.0" fill="rgb(210,210,210)"/>
<ellipse cx="893.0" cy="636.0" rx="14.0" ry="9.0" fill="rgb(195,195,195)"/>
<ellipse cx="887.0" cy="694.0" rx="12.0" ry="5.0" fill="rgb(190,190,190)"/>
<ellipse cx="740.0" cy="561.0" rx="8.0" ry="8.0" fill="rgb(185,185,185)"/>
<ellipse cx="590.0" cy="708.0" rx="8.0" ry="14.0" fill="rgb(200,200,200)"/>
<ellipse cx="700.0" cy="765.0" rx="10.0" ry="6.0" fill="rgb(185,185,185)"/>
<ellipse cx="850.0" cy="580.0" rx="6.0" ry="5.0" fill="rgb(180,180,180)"/>
<ellipse cx="715.0" cy="735.0" rx="20.0" ry="9.0" fill="rgb(70,70,70)"/>
<ellipse cx="840.0" cy="745.0" rx="14.0" ry="10.0" fill="rgb(70,70,70)"/>
<ellipse cx="625.0" cy="560.0" rx="12.0" ry="8.0" fill="rgb(70,70,70)"/>
</g></g></g>
<rect x="569.4" y="831.8" width="215.3" height="2.6" fill="#fff"/>
<text x="549" y="494" font-size="34" fill="#fff">(d)</text>
<rect x="72.5" y="458.0" width="394.3" height="394.0" fill="none" stroke="#000" stroke-width="3"/>
<path d="M72.5,505.2h4.5 M466.8,505.2h-2 M72.5,557.2h4.5 M466.8,557.2h-2 M72.5,608.5h4.5 M466.8,608.5h-2 M72.5,660.5h4.5 M466.8,660.5h-2 M72.5,711.8h4.5 M466.8,711.8h-2 M72.5,763.5h4.5 M466.8,763.5h-2 M72.5,815.5h4.5 M466.8,815.5h-2 M171.7,852.0v-4 M171.7,458.0v4 M270.6,852.0v-4 M270.6,458.0v4 M369.6,852.0v-4 M369.6,458.0v4 " stroke="#000" stroke-width="1.3"/>
<text x="72.5" y="881.5" font-size="24" text-anchor="middle">9</text>
<text x="171.3" y="881.5" font-size="24" text-anchor="middle">10</text>
<text x="270.3" y="881.5" font-size="24" text-anchor="middle">11</text>
<text x="369.3" y="881.5" font-size="24" text-anchor="middle">12</text>
<text x="467.5" y="881.5" font-size="24" text-anchor="middle">13</text>
<text x="262" y="909.8" font-size="23" text-anchor="middle">Average nuclear lifetime / ns</text>
<text transform="translate(51.5,661.2) rotate(-90)" font-size="23.3" text-anchor="middle">Average nuclear intensity / arbitrary units</text>
<text x="79.5" y="495.5" font-size="33" letter-spacing="1.2">(c)</text>
<circle cx="300.7" cy="602.8" r="6.8" fill="#4f81bd"/>
<circle cx="195.9" cy="657.4" r="6.8" fill="#4f81bd"/>
<circle cx="257.5" cy="684.7" r="6.8" fill="#4f81bd"/>
<circle cx="299.8" cy="695.3" r="6.8" fill="#4f81bd"/>
<circle cx="380.0" cy="725.7" r="6.8" fill="#4f81bd"/>
<circle cx="276.9" cy="739.7" r="6.8" fill="#4f81bd"/>
<circle cx="327.1" cy="751.6" r="6.8" fill="#4f81bd"/>
<circle cx="305.5" cy="779.8" r="6.8" fill="#4f81bd"/>
<circle cx="328.0" cy="782.0" r="6.8" fill="#4f81bd"/>
<g><rect x="68.50" y="1309.0" width="4.03" height="13.6" fill="#850000"/><rect x="72.53" y="1305.7" width="4.03" height="16.9" fill="#8f0000"/><rect x="76.56" y="1301.6" width="4.03" height="21.0" fill="#9a0000"/><rect x="80.59" y="1302.6" width="4.03" height="20.0" fill="#a40000"/><rect x="84.61" y="1299.9" width="4.03" height="22.7" fill="#ae0000"/><rect x="88.64" y="1299.0" width="4.03" height="23.6" fill="#b90000"/><rect x="92.67" y="1297.9" width="4.03" height="24.7" fill="#c30000"/><rect x="96.70" y="1291.4" width="4.03" height="31.2" fill="#ce0000"/><rect x="100.73" y="1289.6" width="4.03" height="33.0" fill="#d80000"/><rect x="104.76" y="1289.6" width="4.03" height="33.0" fill="#e20000"/><rect x="108.79" y="1287.7" width="4.03" height="34.9" fill="#ed0000"/><rect x="112.81" y="1284.8" width="4.03" height="37.8" fill="#f70000"/><rect x="116.84" y="1283.8" width="4.03" height="38.8" fill="#ff0300"/><rect x="120.87" y="1281.6" width="4.03" height="41.0" fill="#ff0d00"/><rect x="124.90" y="1280.6" width="4.03" height="42.0" fill="#ff1700"/><rect x="128.93" y="1274.7" width="4.03" height="47.9" fill="#ff2200"/><rect x="132.96" y="1272.8" width="4.03" height="49.8" fill="#ff2c00"/><rect x="136.99" y="1267.5" width="4.03" height="55.1" fill="#ff3700"/><rect x="141.01" y="1264.0" width="4.03" height="58.6" fill="#ff4100"/><rect x="145.04" y="1260.5" width="4.03" height="62.0" fill="#ff4b00"/><rect x="149.07" y="1257.0" width="4.03" height="65.6" fill="#ff5600"/><rect x="153.10" y="1245.7" width="4.03" height="76.9" fill="#ff6000"/><rect x="157.13" y="1264.5" width="4.03" height="58.1" fill="#ff6b00"/><rect x="161.16" y="1256.3" width="4.03" height="66.3" fill="#ff7500"/><rect x="165.19" y="1234.2" width="4.03" height="88.4" fill="#ff8000"/><rect x="169.21" y="1241.2" width="4.03" height="81.4" fill="#ff8a00"/><rect x="173.24" y="1225.9" width="4.03" height="96.7" fill="#ff9400"/><rect x="177.27" y="1232.3" width="4.03" height="90.3" fill="#ff9f00"/><rect x="181.30" y="1216.8" width="4.03" height="105.8" fill="#ffa900"/><rect x="185.33" y="1219.2" width="4.03" height="103.4" fill="#ffb400"/><rect x="189.36" y="1213.9" width="4.03" height="108.7" fill="#ffbe00"/><rect x="193.39" y="1208.0" width="4.03" height="114.6" fill="#ffc800"/><rect x="197.41" y="1203.1" width="4.03" height="119.5" fill="#ffd300"/><rect x="201.44" y="1198.6" width="4.03" height="124.0" fill="#ffdd00"/><rect x="205.47" y="1181.6" width="4.03" height="141.0" fill="#ffe800"/><rect x="209.50" y="1188.0" width="4.03" height="134.6" fill="#fff200"/><rect x="213.53" y="1179.2" width="4.03" height="143.4" fill="#fffc00"/><rect x="217.56" y="1173.6" width="4.03" height="149.0" fill="#f7ff08"/><rect x="221.59" y="1146.5" width="4.03" height="176.0" fill="#edff12"/><rect x="225.61" y="1157.4" width="4.03" height="165.2" fill="#e2ff1d"/><rect x="229.64" y="1152.9" width="4.03" height="169.7" fill="#d8ff27"/><rect x="233.67" y="1141.8" width="4.03" height="180.8" fill="#ceff31"/><rect x="237.70" y="1132.9" width="4.03" height="189.7" fill="#c3ff3c"/><rect x="241.73" y="1130.1" width="4.03" height="192.5" fill="#b9ff46"/><rect x="245.76" y="1126.8" width="4.03" height="195.8" fill="#aeff51"/><rect x="249.79" y="1108.6" width="4.03" height="214.0" fill="#a4ff5b"/><rect x="253.81" y="1098.4" width="4.03" height="224.2" fill="#9aff65"/><rect x="257.84" y="1089.3" width="4.03" height="233.3" fill="#8fff70"/><rect x="261.87" y="1075.8" width="4.03" height="246.8" fill="#85ff7a"/><rect x="265.90" y="1076.4" width="4.03" height="246.2" fill="#7aff85"/><rect x="269.93" y="1089.2" width="4.03" height="233.4" fill="#70ff8f"/><rect x="273.96" y="1070.1" width="4.03" height="252.5" fill="#65ff9a"/><rect x="277.99" y="1059.4" width="4.03" height="263.2" fill="#5bffa4"/><rect x="282.01" y="1063.7" width="4.03" height="258.9" fill="#51ffae"/><rect x="286.04" y="1062.2" width="4.03" height="260.4" fill="#46ffb9"/><rect x="290.07" y="1057.6" width="4.03" height="265.0" fill="#3cffc3"/><rect x="294.10" y="1033.5" width="4.03" height="289.1" fill="#31ffce"/><rect x="298.13" y="1047.7" width="4.03" height="274.9" fill="#27ffd8"/><rect x="302.16" y="1034.2" width="4.03" height="288.4" fill="#1dffe2"/><rect x="306.19" y="1018.6" width="4.03" height="304.0" fill="#12ffed"/><rect x="310.21" y="1019.5" width="4.03" height="303.1" fill="#08fff7"/><rect x="314.24" y="1012.0" width="4.03" height="310.6" fill="#00fcff"/><rect x="318.27" y="1009.6" width="4.03" height="313.0" fill="#00f2ff"/><rect x="322.30" y="1007.1" width="4.03" height="315.5" fill="#00e8ff"/><rect x="326.33" y="993.1" width="4.03" height="329.5" fill="#00ddff"/><rect x="330.36" y="983.9" width="4.03" height="338.7" fill="#00d3ff"/><rect x="334.39" y="980.5" width="4.03" height="342.1" fill="#00c8ff"/><rect x="338.41" y="990.3" width="4.03" height="332.3" fill="#00beff"/><rect x="342.44" y="1004.5" width="4.03" height="318.1" fill="#00b4ff"/><rect x="346.47" y="1006.9" width="4.03" height="315.7" fill="#00a9ff"/><rect x="350.50" y="1016.1" width="4.03" height="306.5" fill="#009fff"/><rect x="354.53" y="1038.7" width="4.03" height="283.9" fill="#0094ff"/><rect x="358.56" y="1057.4" width="4.03" height="265.2" fill="#008aff"/><rect x="362.59" y="1074.9" width="4.03" height="247.7" fill="#0080ff"/><rect x="366.61" y="1082.1" width="4.03" height="240.5" fill="#0075ff"/><rect x="370.64" y="1100.2" width="4.03" height="222.4" fill="#006bff"/><rect x="374.67" y="1107.1" width="4.03" height="215.5" fill="#0060ff"/><rect x="378.70" y="1128.9" width="4.03" height="193.7" fill="#0056ff"/><rect x="382.73" y="1155.5" width="4.03" height="167.1" fill="#004bff"/><rect x="386.76" y="1190.0" width="4.03" height="132.6" fill="#0041ff"/><rect x="390.79" y="1202.1" width="4.03" height="120.5" fill="#0037ff"/><rect x="394.81" y="1215.4" width="4.03" height="107.2" fill="#002cff"/><rect x="398.84" y="1231.4" width="4.03" height="91.2" fill="#0022ff"/><rect x="402.87" y="1239.7" width="4.03" height="82.9" fill="#0017ff"/><rect x="406.90" y="1257.6" width="4.03" height="65.0" fill="#000dff"/><rect x="410.93" y="1262.9" width="4.03" height="59.7" fill="#0003ff"/><rect x="414.96" y="1263.8" width="4.03" height="58.8" fill="#0000f7"/><rect x="418.99" y="1265.1" width="4.03" height="57.5" fill="#0000ed"/><rect x="423.01" y="1269.2" width="4.03" height="53.4" fill="#0000e2"/><rect x="427.04" y="1275.4" width="4.03" height="47.2" fill="#0000d8"/><rect x="431.07" y="1281.9" width="4.03" height="40.7" fill="#0000ce"/><rect x="435.10" y="1284.3" width="4.03" height="38.3" fill="#0000c3"/><rect x="439.13" y="1285.3" width="4.03" height="37.3" fill="#0000b9"/><rect x="443.16" y="1289.5" width="4.03" height="33.1" fill="#0000ae"/><rect x="447.19" y="1295.5" width="4.03" height="27.1" fill="#0000a4"/><rect x="451.21" y="1298.2" width="4.03" height="24.4" fill="#00009a"/><rect x="455.24" y="1300.2" width="4.03" height="22.4" fill="#00008f"/><rect x="459.27" y="1306.2" width="4.03" height="16.4" fill="#000085"/></g>
<path d="M72.53,1307.4V1322.6M76.56,1303.6V1322.6M80.59,1301.0V1322.6M84.61,1303.5V1322.6M88.64,1298.1V1322.6M92.67,1299.7V1322.6M96.70,1295.4V1322.6M100.73,1289.6V1322.6M104.76,1289.6V1322.6M108.79,1288.6V1322.6M112.81,1286.5V1322.6M116.84,1283.3V1322.6M120.87,1283.6V1322.6M124.90,1280.6V1322.6M128.93,1279.4V1322.6M132.96,1273.6V1322.6M136.99,1270.5V1322.6M141.01,1265.7V1322.6M145.04,1262.3V1322.6M149.07,1258.8V1322.6M153.10,1252.2V1322.6M157.13,1252.4V1322.6M161.16,1261.0V1322.6M165.19,1245.8V1322.6M169.21,1236.9V1322.6M173.24,1234.6V1322.6M177.27,1229.1V1322.6M181.30,1225.8V1322.6M185.33,1218.0V1322.6M189.36,1217.1V1322.6M193.39,1210.7V1322.6M197.41,1205.6V1322.6M201.44,1200.8V1322.6M205.47,1190.2V1322.6M209.50,1185.4V1322.6M213.53,1183.5V1322.6M217.56,1176.4V1322.6M221.59,1158.8V1322.6M225.61,1153.6V1322.6M229.64,1155.4V1322.6M233.67,1147.4V1322.6M237.70,1136.3V1322.6M241.73,1131.3V1322.6M245.76,1129.6V1322.6M249.79,1115.9V1322.6M253.81,1102.6V1322.6M257.84,1094.4V1322.6M261.87,1081.2V1322.6M265.90,1073.2V1322.6M269.93,1088.0V1322.6M273.96,1078.7V1322.6M277.99,1062.4V1322.6M282.01,1062.5V1322.6M286.04,1062.8V1322.6M290.07,1061.9V1322.6M294.10,1036.2V1322.6M298.13,1046.1V1322.6M302.16,1042.4V1322.6M306.19,1021.0V1322.6M310.21,1020.0V1322.6M314.24,1015.0V1322.6M318.27,1009.1V1322.6M322.30,1011.3V1322.6M326.33,997.9V1322.6M330.36,988.2V1322.6M334.39,979.6V1322.6M338.41,984.2V1322.6M342.44,1000.6V1322.6M346.47,1005.3V1322.6M350.50,1009.3V1322.6M354.53,1028.2V1322.6M358.56,1047.4V1322.6M362.59,1068.8V1322.6M366.61,1075.6V1322.6M370.64,1094.2V1322.6M374.67,1100.9V1322.6M378.70,1118.0V1322.6M382.73,1142.0V1322.6M386.76,1177.0V1322.6M390.79,1196.1V1322.6M394.81,1208.1V1322.6M398.84,1223.4V1322.6M402.87,1237.7V1322.6M406.90,1244.9V1322.6M410.93,1265.6V1322.6M414.96,1261.8V1322.6M418.99,1265.1V1322.6M423.01,1266.2V1322.6M427.04,1272.3V1322.6M431.07,1278.7V1322.6M435.10,1283.9V1322.6M439.13,1284.7V1322.6M443.16,1287.4V1322.6M447.19,1292.5V1322.6M451.21,1297.4V1322.6M455.24,1299.0V1322.6M459.27,1303.2V1322.6" stroke="#000" stroke-width="0.7" stroke-opacity="0.75"/>
<polyline points="69.0,1310.3 74.4,1305.8 79.8,1300.4 84.3,1304.0 87.9,1297.7 92.4,1299.9 96.0,1296.8 99.6,1289.6 106.8,1289.6 112.2,1287.0 116.7,1283.3 120.3,1284.2 123.9,1280.6 128.4,1280.6 131.1,1274.3 135.6,1272.5 139.2,1267.2 144.6,1262.7 151.8,1256.4 155.7,1243.8 159.3,1265.4 163.5,1255.5 167.4,1233.0 171.6,1242.0 175.2,1225.8 179.7,1233.0 183.3,1216.8 187.8,1219.5 194.1,1209.6 200.0,1202.4 203.5,1198.6 207.5,1181.5 211.2,1188.7 215.2,1179.7 219.7,1173.4 223.3,1145.5 226.9,1158.1 231.4,1153.6 238.6,1133.8 243.1,1130.2 247.3,1129.3 250.3,1113.1 253.9,1102.3 259.3,1091.5 262.9,1077.1 267.1,1071.7 271.0,1094.2 274.6,1075.3 279.1,1058.1 283.1,1064.1 287.2,1062.3 291.7,1061.7 295.0,1026.6 298.9,1050.9 303.4,1039.2 306.7,1017.6 311.6,1020.9 314.3,1014.9 318.8,1008.3 323.3,1012.2 326.0,998.7 330.5,987.9 335.1,978.1 339.7,986.6 343.1,1004.0 347.6,1005.8 351.6,1010.6 355.6,1034.6 359.6,1051.9 363.6,1074.6 367.6,1075.9 371.6,1099.9 375.6,1101.2 381.0,1130.5 385.0,1157.2 387.6,1186.5 395.6,1210.5 402.3,1237.1 406.3,1241.1 410.3,1266.4 414.3,1261.1 418.3,1265.1 422.3,1265.1 427.6,1273.1 434.2,1283.7 440.9,1285.1 444.9,1289.1 450.2,1297.0 456.9,1299.7 461.4,1306.4 463.0,1314.4" fill="none" stroke="#000" stroke-width="4.2" stroke-linejoin="round"/>
<path d="M93.2,1322.6v-3.5 M117.8,1322.6v-3.5 M142.5,1322.6v-3.5 M167.2,1322.6v-3.5 M191.9,1322.6v-3.5 M216.6,1322.6v-3.5 M241.2,1322.6v-3.5 M265.9,1322.6v-3.5 M290.6,1322.6v-3.5 M315.2,1322.6v-3.5 M339.9,1322.6v-3.5 M364.6,1322.6v-3.5 M389.3,1322.6v-3.5 M413.9,1322.6v-3.5 M438.6,1322.6v-3.5 " stroke="#000" stroke-width="1.3"/>
<rect x="68.5" y="928.0" width="394.8" height="394.6" fill="none" stroke="#000" stroke-width="2.8"/>
<text x="62.9" y="1331.5" font-size="23" text-anchor="end">0</text>
<text x="60.4" y="1275.5" font-size="23" text-anchor="end">2</text>
<text x="60.4" y="1219.4" font-size="23" text-anchor="end">4</text>
<text x="60.4" y="1163.4" font-size="23" text-anchor="end">6</text>
<text x="60.4" y="1107.4" font-size="23" text-anchor="end">8</text>
<text x="60.4" y="1051.3" font-size="23" text-anchor="end">10</text>
<text x="60.4" y="995.3" font-size="23" text-anchor="end">12</text>
<text x="60.4" y="939.3" font-size="23" text-anchor="end">14</text>
<text x="68.5" y="1351.5" font-size="24" text-anchor="middle">09</text>
<text x="167.2" y="1351.5" font-size="24" text-anchor="middle">10</text>
<text x="265.9" y="1351.5" font-size="24" text-anchor="middle">11</text>
<text x="364.6" y="1351.5" font-size="24" text-anchor="middle">12</text>
<text x="463.3" y="1351.5" font-size="24" text-anchor="middle">13</text>
<text transform="translate(18.7,1132) rotate(-90)" font-size="24" text-anchor="middle">Frequency (x10<tspan font-size="15" dy="-9">2</tspan><tspan dy="9">)</tspan></text>
<text x="225" y="1382.6" font-size="24"><tspan font-family="Liberation Serif, serif">&#964;</tspan><tspan font-size="17" dy="5">w</tspan><tspan dy="-5"> / ns</tspan></text>
<text x="78.5" y="966.5" font-size="33" letter-spacing="1.5">(e)</text>
<rect x="541.0" y="927.5" width="394.5" height="309.5" fill="none" stroke="#000" stroke-width="3"/>
<rect x="541.0" y="1267.0" width="394.5" height="56.0" fill="none" stroke="#000" stroke-width="3"/>
<path d="M541.0,1017.6h5 M541.0,1147.1h5 M541.0,1214.8h3 M541.0,1198.6h3 M541.0,1186.1h3 M541.0,1175.8h3 M541.0,1167.2h3 M541.0,1159.6h3 M541.0,1153.0h3 M541.0,1108.1h3 M541.0,1085.3h3 M541.0,1069.1h3 M541.0,1056.6h3 M541.0,1046.3h3 M541.0,1037.7h3 M541.0,1030.1h3 M541.0,1023.5h3 M541.0,978.6h3 M541.0,955.8h3 M541.0,939.6h3 M628.4,1237.0v-5 M628.4,1323.0v-5 M716.5,1237.0v-5 M716.5,1323.0v-5 M804.6,1237.0v-5 M804.6,1323.0v-5 M892.7,1237.0v-5 M892.7,1323.0v-5 M584.3,1237.0v-3 M584.3,1323.0v-3 M672.4,1237.0v-3 M672.4,1323.0v-3 M760.5,1237.0v-3 M760.5,1323.0v-3 M848.6,1237.0v-3 M848.6,1323.0v-3 M541.0,1295.3h5 M541.0,1272.6h2.5 M541.0,1278.2h2.5 M541.0,1283.8h2.5 M541.0,1289.4h2.5 M541.0,1295.0h2.5 M541.0,1300.6h2.5 M541.0,1306.2h2.5 M541.0,1311.8h2.5 M541.0,1317.4h2.5 " stroke="#000" stroke-width="1.6"/>
<g fill="none" stroke="#000" stroke-width="0.9"><circle cx="562.8" cy="1147.9" r="2.7"/><circle cx="557.6" cy="1155.4" r="2.7"/><circle cx="554.3" cy="1174.4" r="2.7"/><circle cx="559.5" cy="1174.4" r="2.7"/><circle cx="560.8" cy="1203.1" r="2.7"/><circle cx="552.5" cy="1176.0" r="2.7"/><circle cx="567.6" cy="1038.5" r="2.7"/><circle cx="569.4" cy="943.1" r="2.7"/><circle cx="571.1" cy="935.1" r="2.7"/><circle cx="572.9" cy="947.0" r="2.7"/><circle cx="574.7" cy="951.5" r="2.7"/><circle cx="576.4" cy="961.3" r="2.7"/><circle cx="578.2" cy="968.1" r="2.7"/><circle cx="579.9" cy="973.8" r="2.7"/><circle cx="581.7" cy="967.4" r="2.7"/><circle cx="583.5" cy="976.1" r="2.7"/><circle cx="585.2" cy="983.3" r="2.7"/><circle cx="587.0" cy="975.6" r="2.7"/><circle cx="588.8" cy="983.3" r="2.7"/><circle cx="590.5" cy="983.3" r="2.7"/><circle cx="592.3" cy="990.8" r="2.7"/><circle cx="594.0" cy="989.8" r="2.7"/><circle cx="595.8" cy="991.2" r="2.7"/><circle cx="597.6" cy="986.8" r="2.7"/><circle cx="599.3" cy="990.5" r="2.7"/><circle cx="601.1" cy="993.3" r="2.7"/><circle cx="602.9" cy="991.5" r="2.7"/><circle cx="604.6" cy="995.2" r="2.7"/><circle cx="606.4" cy="996.7" r="2.7"/><circle cx="608.1" cy="1002.0" r="2.7"/><circle cx="609.9" cy="998.7" r="2.7"/><circle cx="611.7" cy="996.7" r="2.7"/><circle cx="613.4" cy="1000.7" r="2.7"/><circle cx="615.2" cy="1008.8" r="2.7"/><circle cx="616.9" cy="1001.1" r="2.7"/><circle cx="618.7" cy="991.9" r="2.7"/><circle cx="620.5" cy="1015.4" r="2.7"/><circle cx="622.2" cy="1003.3" r="2.7"/><circle cx="624.0" cy="999.9" r="2.7"/><circle cx="625.8" cy="1000.7" r="2.7"/><circle cx="627.5" cy="1010.7" r="2.7"/><circle cx="629.3" cy="1004.6" r="2.7"/><circle cx="631.0" cy="1016.5" r="2.7"/><circle cx="632.8" cy="1013.3" r="2.7"/><circle cx="634.6" cy="1017.6" r="2.7"/><circle cx="636.3" cy="1013.3" r="2.7"/><circle cx="638.1" cy="1008.3" r="2.7"/><circle cx="639.9" cy="1014.9" r="2.7"/><circle cx="641.6" cy="1007.8" r="2.7"/><circle cx="643.4" cy="1019.9" r="2.7"/><circle cx="645.1" cy="1012.2" r="2.7"/><circle cx="646.9" cy="1025.4" r="2.7"/><circle cx="648.7" cy="1030.9" r="2.7"/><circle cx="650.4" cy="1014.3" r="2.7"/><circle cx="652.2" cy="1019.3" r="2.7"/><circle cx="653.9" cy="1015.9" r="2.7"/><circle cx="655.7" cy="1023.5" r="2.7"/><circle cx="657.5" cy="1022.9" r="2.7"/><circle cx="659.2" cy="1033.0" r="2.7"/><circle cx="661.0" cy="1022.9" r="2.7"/><circle cx="662.8" cy="1032.3" r="2.7"/><circle cx="664.5" cy="1035.3" r="2.7"/><circle cx="666.3" cy="1021.7" r="2.7"/><circle cx="668.0" cy="1028.8" r="2.7"/><circle cx="669.8" cy="1037.7" r="2.7"/><circle cx="671.6" cy="1022.3" r="2.7"/><circle cx="673.3" cy="1033.8" r="2.7"/><circle cx="675.1" cy="1026.1" r="2.7"/><circle cx="676.9" cy="1031.6" r="2.7"/><circle cx="678.6" cy="1034.5" r="2.7"/><circle cx="680.4" cy="1030.1" r="2.7"/><circle cx="682.1" cy="1052.3" r="2.7"/><circle cx="683.9" cy="1034.5" r="2.7"/><circle cx="685.7" cy="1048.2" r="2.7"/><circle cx="687.4" cy="1038.5" r="2.7"/><circle cx="689.2" cy="1029.5" r="2.7"/><circle cx="691.0" cy="1040.1" r="2.7"/><circle cx="692.7" cy="1048.2" r="2.7"/><circle cx="694.5" cy="1033.0" r="2.7"/><circle cx="696.2" cy="1041.0" r="2.7"/><circle cx="698.0" cy="1049.2" r="2.7"/><circle cx="699.8" cy="1055.5" r="2.7"/><circle cx="701.5" cy="1047.3" r="2.7"/><circle cx="703.3" cy="1043.6" r="2.7"/><circle cx="705.0" cy="1057.7" r="2.7"/><circle cx="706.8" cy="1053.3" r="2.7"/><circle cx="708.6" cy="1040.1" r="2.7"/><circle cx="710.3" cy="1065.1" r="2.7"/><circle cx="712.1" cy="1060.1" r="2.7"/><circle cx="713.9" cy="1060.1" r="2.7"/><circle cx="715.6" cy="1042.7" r="2.7"/><circle cx="717.4" cy="1052.3" r="2.7"/><circle cx="719.1" cy="1051.2" r="2.7"/><circle cx="720.9" cy="1055.5" r="2.7"/><circle cx="722.7" cy="1054.4" r="2.7"/><circle cx="724.4" cy="1056.6" r="2.7"/><circle cx="726.2" cy="1062.5" r="2.7"/><circle cx="728.0" cy="1053.3" r="2.7"/><circle cx="729.7" cy="1056.6" r="2.7"/><circle cx="731.5" cy="1069.1" r="2.7"/><circle cx="733.2" cy="1062.5" r="2.7"/><circle cx="735.0" cy="1053.3" r="2.7"/><circle cx="736.8" cy="1067.7" r="2.7"/><circle cx="738.5" cy="1062.5" r="2.7"/><circle cx="740.3" cy="1065.1" r="2.7"/><circle cx="742.0" cy="1061.3" r="2.7"/><circle cx="743.8" cy="1061.3" r="2.7"/><circle cx="745.6" cy="1076.6" r="2.7"/><circle cx="747.3" cy="1067.7" r="2.7"/><circle cx="749.1" cy="1062.5" r="2.7"/><circle cx="750.9" cy="1089.2" r="2.7"/><circle cx="752.6" cy="1080.0" r="2.7"/><circle cx="754.4" cy="1073.5" r="2.7"/><circle cx="756.1" cy="1063.8" r="2.7"/><circle cx="757.9" cy="1075.1" r="2.7"/><circle cx="759.7" cy="1076.6" r="2.7"/><circle cx="761.4" cy="1076.6" r="2.7"/><circle cx="763.2" cy="1105.4" r="2.7"/><circle cx="765.0" cy="1085.3" r="2.7"/><circle cx="766.7" cy="1069.1" r="2.7"/><circle cx="768.5" cy="1069.1" r="2.7"/><circle cx="770.2" cy="1089.2" r="2.7"/><circle cx="772.0" cy="1087.2" r="2.7"/><circle cx="773.8" cy="1091.2" r="2.7"/><circle cx="775.5" cy="1085.3" r="2.7"/><circle cx="777.3" cy="1070.6" r="2.7"/><circle cx="779.1" cy="1080.0" r="2.7"/><circle cx="780.8" cy="1108.1" r="2.7"/><circle cx="782.6" cy="1105.4" r="2.7"/><circle cx="784.3" cy="1120.7" r="2.7"/><circle cx="786.1" cy="1072.0" r="2.7"/><circle cx="787.9" cy="1091.2" r="2.7"/><circle cx="789.6" cy="1105.4" r="2.7"/><circle cx="791.4" cy="1075.1" r="2.7"/><circle cx="793.1" cy="1128.2" r="2.7"/><circle cx="794.9" cy="1093.4" r="2.7"/><circle cx="796.7" cy="1085.3" r="2.7"/><circle cx="798.4" cy="1100.3" r="2.7"/><circle cx="800.2" cy="1091.2" r="2.7"/><circle cx="802.0" cy="1108.1" r="2.7"/><circle cx="803.7" cy="1100.3" r="2.7"/><circle cx="805.5" cy="1111.0" r="2.7"/><circle cx="807.2" cy="1105.4" r="2.7"/><circle cx="809.0" cy="1117.3" r="2.7"/><circle cx="810.8" cy="1124.3" r="2.7"/><circle cx="812.5" cy="1085.3" r="2.7"/><circle cx="814.3" cy="1089.2" r="2.7"/><circle cx="816.1" cy="1120.7" r="2.7"/><circle cx="817.8" cy="1083.5" r="2.7"/><circle cx="819.6" cy="1102.8" r="2.7"/><circle cx="821.3" cy="1091.2" r="2.7"/><circle cx="823.1" cy="1108.1" r="2.7"/><circle cx="824.9" cy="1100.3" r="2.7"/><circle cx="826.6" cy="1111.0" r="2.7"/><circle cx="828.4" cy="1102.8" r="2.7"/><circle cx="830.1" cy="1100.3" r="2.7"/><circle cx="831.9" cy="1100.3" r="2.7"/><circle cx="833.7" cy="1132.3" r="2.7"/><circle cx="835.4" cy="1102.8" r="2.7"/><circle cx="837.2" cy="1087.2" r="2.7"/><circle cx="839.0" cy="1128.2" r="2.7"/><circle cx="840.7" cy="1114.0" r="2.7"/><circle cx="842.5" cy="1124.3" r="2.7"/><circle cx="844.2" cy="1128.2" r="2.7"/><circle cx="846.0" cy="1120.7" r="2.7"/><circle cx="847.8" cy="1120.7" r="2.7"/><circle cx="849.5" cy="1136.8" r="2.7"/><circle cx="851.3" cy="1117.3" r="2.7"/><circle cx="853.1" cy="1128.2" r="2.7"/><circle cx="854.8" cy="1108.1" r="2.7"/><circle cx="856.6" cy="1124.3" r="2.7"/><circle cx="858.3" cy="1128.2" r="2.7"/><circle cx="860.1" cy="1124.3" r="2.7"/><circle cx="861.9" cy="1128.2" r="2.7"/><circle cx="863.6" cy="1114.0" r="2.7"/><circle cx="865.4" cy="1136.8" r="2.7"/><circle cx="867.2" cy="1141.7" r="2.7"/><circle cx="868.9" cy="1128.2" r="2.7"/><circle cx="870.7" cy="1141.7" r="2.7"/><circle cx="872.4" cy="1132.3" r="2.7"/><circle cx="874.2" cy="1124.3" r="2.7"/><circle cx="876.0" cy="1147.1" r="2.7"/><circle cx="877.7" cy="1128.2" r="2.7"/><circle cx="879.5" cy="1141.7" r="2.7"/><circle cx="881.2" cy="1120.7" r="2.7"/><circle cx="883.0" cy="1153.0" r="2.7"/><circle cx="884.8" cy="1153.0" r="2.7"/><circle cx="886.5" cy="1153.0" r="2.7"/><circle cx="888.3" cy="1167.2" r="2.7"/><circle cx="890.1" cy="1141.7" r="2.7"/><circle cx="891.8" cy="1147.1" r="2.7"/><circle cx="893.6" cy="1147.1" r="2.7"/><circle cx="895.3" cy="1147.1" r="2.7"/><circle cx="897.1" cy="1141.7" r="2.7"/><circle cx="898.9" cy="1147.1" r="2.7"/><circle cx="900.6" cy="1124.3" r="2.7"/><circle cx="902.4" cy="1141.7" r="2.7"/><circle cx="904.2" cy="1186.1" r="2.7"/><circle cx="905.9" cy="1186.1" r="2.7"/><circle cx="907.7" cy="1136.8" r="2.7"/><circle cx="909.4" cy="1167.2" r="2.7"/><circle cx="911.2" cy="1186.1" r="2.7"/><circle cx="913.0" cy="1167.2" r="2.7"/><circle cx="914.7" cy="1114.0" r="2.7"/><circle cx="916.5" cy="1141.7" r="2.7"/><circle cx="918.2" cy="1153.0" r="2.7"/><circle cx="920.0" cy="1141.7" r="2.7"/><circle cx="921.8" cy="1141.7" r="2.7"/><circle cx="923.5" cy="1175.8" r="2.7"/><circle cx="925.3" cy="1147.1" r="2.7"/><circle cx="927.1" cy="1175.8" r="2.7"/></g>
<g clip-path="url(#clipF)">
<polyline points="553.5,1174.4 565.1,1177.9 566.8,1175.3 570.5,931.0 571.1,935.1 572.0,940.2 572.9,944.9 573.8,949.2 574.7,953.2 575.5,956.8 576.4,960.1 577.3,963.0 578.2,965.7 579.1,968.2 579.9,970.4 580.8,972.3 581.7,974.1 582.6,975.7 583.5,977.2 584.3,978.5 585.2,979.7 586.1,980.9 587.0,981.9 587.9,982.8 588.8,983.7 589.6,984.5 590.5,985.3 591.4,986.0 592.3,986.7 593.2,987.4 594.0,988.0 594.9,988.7 595.8,989.3 596.7,989.8 597.6,990.4 598.4,991.0 599.3,991.5 600.2,992.0 601.1,992.6 602.0,993.1 602.9,993.6 603.7,994.1 604.6,994.6 605.5,995.1 606.4,995.6 607.3,996.1 608.1,996.6 609.0,997.1 609.9,997.6 610.8,998.1 611.7,998.6 616.1,1001.1 620.5,1003.5 624.9,1006.0 629.3,1008.4 633.7,1010.8 638.1,1013.2 642.5,1015.6 646.9,1018.1 651.3,1020.5 655.7,1022.9 660.1,1025.3 664.5,1027.7 668.9,1030.1 673.3,1032.4 677.7,1034.8 682.1,1037.2 686.5,1039.6 691.0,1041.9 695.4,1044.3 699.8,1046.7 704.2,1049.0 708.6,1051.3 713.0,1053.7 717.4,1056.0 721.8,1058.3 726.2,1060.6 730.6,1062.9 735.0,1065.2 739.4,1067.5 743.8,1069.8 748.2,1072.1 752.6,1074.3 757.0,1076.6 761.4,1078.8 765.8,1081.0 770.2,1083.3 774.6,1085.5 779.1,1087.7 783.5,1089.8 787.9,1092.0 792.3,1094.2 796.7,1096.3 801.1,1098.4 805.5,1100.6 809.9,1102.7 814.3,1104.7 818.7,1106.8 823.1,1108.9 827.5,1110.9 831.9,1112.9 836.3,1114.9 840.7,1116.9 845.1,1118.9 849.5,1120.8 853.9,1122.7 858.3,1124.6 862.7,1126.5 867.2,1128.4 871.6,1130.2 876.0,1132.1 880.4,1133.9 884.8,1135.6 889.2,1137.4 893.6,1139.1 898.0,1140.8 902.4,1142.5 906.8,1144.2 911.2,1145.8 915.6,1147.4 920.0,1149.0 924.4,1150.6" fill="none" stroke="#f00" stroke-width="2.8" stroke-linejoin="round"/>
<polyline points="566.4,1245.0 566.6,1175.0 569.5,930.5 572.3,966.0 574.6,1058.0 576.9,1158.0 579.8,1161.5 582.0,1163.5 582.8,1180.0 584.8,1245.0" fill="none" stroke="#7b7bff" stroke-width="2.6" stroke-linejoin="round"/>
<polyline points="566.8,1175.3 570.2,931" fill="none" stroke="#4a12b0" stroke-width="2.6"/>
</g>
<g fill="#000"><circle cx="555.3" cy="1286.5" r="2.1"/><circle cx="557.0" cy="1293.1" r="2.1"/><circle cx="558.8" cy="1294.8" r="2.1"/><circle cx="560.6" cy="1304.5" r="2.1"/><circle cx="562.3" cy="1296.7" r="2.1"/><circle cx="564.1" cy="1297.0" r="2.1"/><circle cx="565.8" cy="1295.7" r="2.1"/><circle cx="567.6" cy="1298.4" r="2.1"/><circle cx="569.4" cy="1295.5" r="2.1"/><circle cx="571.1" cy="1297.7" r="2.1"/><circle cx="572.9" cy="1301.8" r="2.1"/><circle cx="574.7" cy="1290.9" r="2.1"/><circle cx="576.4" cy="1291.0" r="2.1"/><circle cx="578.2" cy="1286.9" r="2.1"/><circle cx="579.9" cy="1295.1" r="2.1"/><circle cx="581.7" cy="1297.3" r="2.1"/><circle cx="583.5" cy="1298.0" r="2.1"/><circle cx="585.2" cy="1302.9" r="2.1"/><circle cx="587.0" cy="1290.5" r="2.1"/><circle cx="588.8" cy="1300.7" r="2.1"/><circle cx="590.5" cy="1301.1" r="2.1"/><circle cx="592.3" cy="1296.3" r="2.1"/><circle cx="594.0" cy="1288.0" r="2.1"/><circle cx="595.8" cy="1294.1" r="2.1"/><circle cx="597.6" cy="1300.3" r="2.1"/><circle cx="599.3" cy="1298.8" r="2.1"/><circle cx="601.1" cy="1292.2" r="2.1"/><circle cx="602.9" cy="1296.1" r="2.1"/><circle cx="604.6" cy="1299.1" r="2.1"/><circle cx="606.4" cy="1296.4" r="2.1"/><circle cx="608.1" cy="1291.6" r="2.1"/><circle cx="609.9" cy="1285.6" r="2.1"/><circle cx="611.7" cy="1301.4" r="2.1"/><circle cx="613.4" cy="1298.4" r="2.1"/><circle cx="615.2" cy="1299.3" r="2.1"/><circle cx="616.9" cy="1307.2" r="2.1"/><circle cx="618.7" cy="1299.9" r="2.1"/><circle cx="620.5" cy="1300.3" r="2.1"/><circle cx="622.2" cy="1289.8" r="2.1"/><circle cx="624.0" cy="1296.0" r="2.1"/><circle cx="625.8" cy="1303.3" r="2.1"/><circle cx="627.5" cy="1292.1" r="2.1"/><circle cx="629.3" cy="1297.1" r="2.1"/><circle cx="631.0" cy="1303.9" r="2.1"/><circle cx="632.8" cy="1298.2" r="2.1"/><circle cx="634.6" cy="1298.2" r="2.1"/><circle cx="636.3" cy="1299.6" r="2.1"/><circle cx="638.1" cy="1295.2" r="2.1"/><circle cx="639.9" cy="1306.4" r="2.1"/><circle cx="641.6" cy="1296.6" r="2.1"/><circle cx="643.4" cy="1290.3" r="2.1"/><circle cx="645.1" cy="1291.1" r="2.1"/><circle cx="646.9" cy="1289.8" r="2.1"/><circle cx="648.7" cy="1289.8" r="2.1"/><circle cx="650.4" cy="1288.0" r="2.1"/><circle cx="652.2" cy="1300.8" r="2.1"/><circle cx="653.9" cy="1291.1" r="2.1"/><circle cx="655.7" cy="1304.5" r="2.1"/><circle cx="657.5" cy="1298.3" r="2.1"/><circle cx="659.2" cy="1304.7" r="2.1"/><circle cx="661.0" cy="1290.1" r="2.1"/><circle cx="662.8" cy="1288.7" r="2.1"/><circle cx="664.5" cy="1296.3" r="2.1"/><circle cx="666.3" cy="1286.6" r="2.1"/><circle cx="668.0" cy="1298.6" r="2.1"/><circle cx="669.8" cy="1294.6" r="2.1"/><circle cx="671.6" cy="1294.5" r="2.1"/><circle cx="673.3" cy="1300.5" r="2.1"/><circle cx="675.1" cy="1293.1" r="2.1"/><circle cx="676.9" cy="1285.7" r="2.1"/><circle cx="678.6" cy="1300.4" r="2.1"/><circle cx="680.4" cy="1290.9" r="2.1"/><circle cx="682.1" cy="1296.1" r="2.1"/><circle cx="683.9" cy="1286.6" r="2.1"/><circle cx="685.7" cy="1292.9" r="2.1"/><circle cx="687.4" cy="1292.0" r="2.1"/><circle cx="689.2" cy="1292.1" r="2.1"/><circle cx="691.0" cy="1294.1" r="2.1"/><circle cx="692.7" cy="1302.2" r="2.1"/><circle cx="694.5" cy="1288.4" r="2.1"/><circle cx="696.2" cy="1302.1" r="2.1"/><circle cx="698.0" cy="1294.1" r="2.1"/><circle cx="699.8" cy="1292.3" r="2.1"/><circle cx="701.5" cy="1299.4" r="2.1"/><circle cx="703.3" cy="1294.6" r="2.1"/><circle cx="705.0" cy="1289.5" r="2.1"/><circle cx="706.8" cy="1295.4" r="2.1"/><circle cx="708.6" cy="1299.7" r="2.1"/><circle cx="710.3" cy="1309.7" r="2.1"/><circle cx="712.1" cy="1300.1" r="2.1"/><circle cx="713.9" cy="1298.2" r="2.1"/><circle cx="715.6" cy="1297.8" r="2.1"/><circle cx="717.4" cy="1300.0" r="2.1"/><circle cx="719.1" cy="1293.4" r="2.1"/><circle cx="720.9" cy="1298.1" r="2.1"/><circle cx="722.7" cy="1295.8" r="2.1"/><circle cx="724.4" cy="1292.0" r="2.1"/><circle cx="726.2" cy="1299.5" r="2.1"/><circle cx="728.0" cy="1296.8" r="2.1"/><circle cx="729.7" cy="1284.7" r="2.1"/><circle cx="731.5" cy="1291.0" r="2.1"/><circle cx="733.2" cy="1301.7" r="2.1"/><circle cx="735.0" cy="1295.7" r="2.1"/><circle cx="736.8" cy="1292.5" r="2.1"/><circle cx="738.5" cy="1289.2" r="2.1"/><circle cx="740.3" cy="1294.6" r="2.1"/><circle cx="742.0" cy="1297.9" r="2.1"/><circle cx="743.8" cy="1298.9" r="2.1"/><circle cx="745.6" cy="1292.1" r="2.1"/><circle cx="747.3" cy="1293.8" r="2.1"/><circle cx="749.1" cy="1297.8" r="2.1"/><circle cx="750.9" cy="1296.2" r="2.1"/><circle cx="752.6" cy="1297.4" r="2.1"/><circle cx="754.4" cy="1291.7" r="2.1"/><circle cx="756.1" cy="1298.7" r="2.1"/><circle cx="757.9" cy="1292.9" r="2.1"/><circle cx="759.7" cy="1291.1" r="2.1"/><circle cx="761.4" cy="1292.9" r="2.1"/><circle cx="763.2" cy="1299.4" r="2.1"/><circle cx="765.0" cy="1288.7" r="2.1"/><circle cx="766.7" cy="1298.6" r="2.1"/><circle cx="768.5" cy="1293.2" r="2.1"/><circle cx="770.2" cy="1299.0" r="2.1"/><circle cx="772.0" cy="1303.9" r="2.1"/><circle cx="773.8" cy="1294.2" r="2.1"/><circle cx="775.5" cy="1293.9" r="2.1"/><circle cx="777.3" cy="1295.7" r="2.1"/><circle cx="779.1" cy="1293.9" r="2.1"/><circle cx="780.8" cy="1298.5" r="2.1"/><circle cx="782.6" cy="1298.9" r="2.1"/><circle cx="784.3" cy="1296.1" r="2.1"/><circle cx="786.1" cy="1285.9" r="2.1"/><circle cx="787.9" cy="1291.3" r="2.1"/><circle cx="789.6" cy="1297.9" r="2.1"/><circle cx="791.4" cy="1292.5" r="2.1"/><circle cx="793.1" cy="1297.7" r="2.1"/><circle cx="794.9" cy="1297.6" r="2.1"/><circle cx="796.7" cy="1291.1" r="2.1"/><circle cx="798.4" cy="1297.9" r="2.1"/><circle cx="800.2" cy="1303.6" r="2.1"/><circle cx="802.0" cy="1299.8" r="2.1"/><circle cx="803.7" cy="1294.9" r="2.1"/><circle cx="805.5" cy="1294.7" r="2.1"/><circle cx="807.2" cy="1289.2" r="2.1"/><circle cx="809.0" cy="1298.8" r="2.1"/><circle cx="810.8" cy="1291.7" r="2.1"/><circle cx="812.5" cy="1293.2" r="2.1"/><circle cx="814.3" cy="1296.0" r="2.1"/><circle cx="816.1" cy="1291.2" r="2.1"/><circle cx="817.8" cy="1292.9" r="2.1"/><circle cx="819.6" cy="1299.6" r="2.1"/><circle cx="821.3" cy="1290.0" r="2.1"/><circle cx="823.1" cy="1301.3" r="2.1"/><circle cx="824.9" cy="1295.0" r="2.1"/><circle cx="826.6" cy="1295.3" r="2.1"/><circle cx="828.4" cy="1293.2" r="2.1"/><circle cx="830.1" cy="1298.9" r="2.1"/><circle cx="831.9" cy="1295.5" r="2.1"/><circle cx="833.7" cy="1296.0" r="2.1"/><circle cx="835.4" cy="1290.4" r="2.1"/><circle cx="837.2" cy="1299.2" r="2.1"/><circle cx="839.0" cy="1294.9" r="2.1"/><circle cx="840.7" cy="1296.6" r="2.1"/><circle cx="842.5" cy="1301.7" r="2.1"/><circle cx="844.2" cy="1282.1" r="2.1"/><circle cx="846.0" cy="1295.7" r="2.1"/><circle cx="847.8" cy="1302.6" r="2.1"/><circle cx="849.5" cy="1288.4" r="2.1"/><circle cx="851.3" cy="1300.6" r="2.1"/><circle cx="853.1" cy="1293.5" r="2.1"/><circle cx="854.8" cy="1291.0" r="2.1"/><circle cx="856.6" cy="1298.5" r="2.1"/><circle cx="858.3" cy="1297.4" r="2.1"/><circle cx="860.1" cy="1298.0" r="2.1"/><circle cx="861.9" cy="1295.9" r="2.1"/><circle cx="863.6" cy="1303.3" r="2.1"/><circle cx="865.4" cy="1301.4" r="2.1"/><circle cx="867.2" cy="1296.0" r="2.1"/><circle cx="868.9" cy="1290.2" r="2.1"/><circle cx="870.7" cy="1292.2" r="2.1"/><circle cx="872.4" cy="1286.8" r="2.1"/><circle cx="874.2" cy="1291.9" r="2.1"/><circle cx="876.0" cy="1297.8" r="2.1"/><circle cx="877.7" cy="1295.9" r="2.1"/><circle cx="879.5" cy="1305.3" r="2.1"/><circle cx="881.2" cy="1300.0" r="2.1"/><circle cx="883.0" cy="1300.3" r="2.1"/><circle cx="884.8" cy="1294.0" r="2.1"/><circle cx="886.5" cy="1292.1" r="2.1"/><circle cx="888.3" cy="1298.1" r="2.1"/><circle cx="890.1" cy="1298.2" r="2.1"/><circle cx="891.8" cy="1302.9" r="2.1"/><circle cx="893.6" cy="1295.9" r="2.1"/><circle cx="895.3" cy="1294.1" r="2.1"/><circle cx="897.1" cy="1293.1" r="2.1"/><circle cx="898.9" cy="1299.2" r="2.1"/><circle cx="900.6" cy="1285.5" r="2.1"/><circle cx="902.4" cy="1289.4" r="2.1"/><circle cx="904.2" cy="1295.8" r="2.1"/><circle cx="905.9" cy="1297.9" r="2.1"/><circle cx="907.7" cy="1296.9" r="2.1"/><circle cx="909.4" cy="1294.6" r="2.1"/><circle cx="911.2" cy="1295.4" r="2.1"/><circle cx="913.0" cy="1292.9" r="2.1"/><circle cx="914.7" cy="1291.5" r="2.1"/><circle cx="916.5" cy="1288.6" r="2.1"/><circle cx="918.2" cy="1289.6" r="2.1"/><circle cx="920.0" cy="1295.8" r="2.1"/><circle cx="921.8" cy="1293.4" r="2.1"/><circle cx="923.5" cy="1297.2" r="2.1"/><circle cx="925.3" cy="1298.2" r="2.1"/><circle cx="927.1" cy="1285.9" r="2.1"/><circle cx="565.8" cy="1270.8" r="2.1"/><circle cx="628.4" cy="1310.9" r="2.1"/></g>
<text x="541.8" y="1352" font-size="23.5" text-anchor="middle">0</text>
<text x="628.4" y="1352" font-size="23.5" text-anchor="middle">10</text>
<text x="716.5" y="1352" font-size="23.5" text-anchor="middle">20</text>
<text x="804.6" y="1352" font-size="23.5" text-anchor="middle">30</text>
<text x="892.7" y="1352" font-size="23.5" text-anchor="middle">40</text>
<text x="740" y="1383.2" font-size="23" text-anchor="middle">Time / ns</text>
<text transform="translate(528.7,1079) rotate(-90)" font-size="23" text-anchor="middle">Log Counts</text>
<text transform="translate(530,1294) rotate(-90)" font-size="23" text-anchor="middle">Residual</text>
<text x="967.8" y="1271" font-size="13" text-anchor="end">0.5</text>
<text x="967.8" y="1300.2" font-size="13" text-anchor="end">0.0</text>
<text x="967.8" y="1329.2" font-size="13" text-anchor="end">&#8722;0.5</text>
<circle cx="744.9" cy="948.3" r="2.6" fill="none" stroke="#000" stroke-width="1"/>
<path d="M722.8,971.7H767.3" stroke="#f00" stroke-width="3"/>
<path d="M722.8,995.2H767.3" stroke="#7b7bff" stroke-width="3"/>
<text x="771" y="954.8" font-size="19.4">Decay Trace</text>
<text x="771" y="978.1" font-size="19.4">Bi-Exponential Fit</text>
<text x="771" y="1001.7" font-size="19.4">IRF</text>
<text x="597.5" y="967" font-size="34" letter-spacing="1">(f)</text>
<text x="602" y="1128.1" font-size="19.5"><tspan font-family="Liberation Serif, serif">&#964;</tspan><tspan font-size="13.5" dy="5">1</tspan><tspan dy="-5"> = 1.77 ns (0.41)</tspan></text>
<text x="602" y="1157.1" font-size="19.5"><tspan font-family="Liberation Serif, serif">&#964;</tspan><tspan font-size="13.5" dy="5">2</tspan><tspan dy="-5"> = 12.0 ns (0.59)</tspan></text>
<text x="602" y="1187.5" font-size="19.5"><tspan font-family="Liberation Serif, serif">&#964;</tspan><tspan font-size="13.5" dy="5">w</tspan><tspan dy="-5"> = 11.1 ns</tspan></text>
<text x="602" y="1219.4" font-size="19.5"><tspan font-family="Liberation Serif, serif">&#967;</tspan><tspan font-size="12" dy="-8">2</tspan><tspan dy="8"> = 1.21</tspan></text>
</svg></body></html>
